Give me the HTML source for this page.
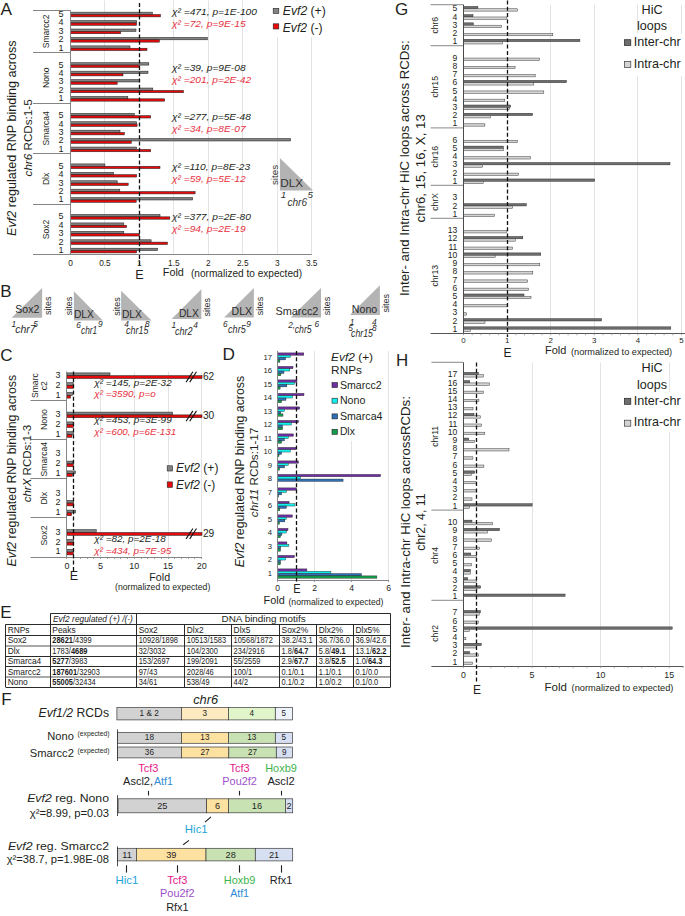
<!DOCTYPE html>
<html><head><meta charset="utf-8"><style>
html,body{margin:0;padding:0;background:#fff;}
svg{display:block;}
text{font-family:'Liberation Sans',sans-serif;}
</style></head><body>
<svg width="685" height="916" viewBox="0 0 685 916">
<rect width="685" height="916" fill="#fff"/>
<line x1="104.50" y1="0.50" x2="104.50" y2="254.77" stroke="#dcdcdc" stroke-width="0.8"/>
<line x1="173.50" y1="0.50" x2="173.50" y2="254.77" stroke="#dcdcdc" stroke-width="0.8"/>
<line x1="208.50" y1="0.50" x2="208.50" y2="254.77" stroke="#dcdcdc" stroke-width="0.8"/>
<line x1="242.50" y1="0.50" x2="242.50" y2="254.77" stroke="#dcdcdc" stroke-width="0.8"/>
<line x1="277.50" y1="37.00" x2="277.50" y2="254.77" stroke="#dcdcdc" stroke-width="0.8"/>
<line x1="311.50" y1="37.00" x2="311.50" y2="254.77" stroke="#dcdcdc" stroke-width="0.8"/>
<rect x="70.50" y="12.17" width="81.80" height="2.35" fill="#828282" stroke="#222222" stroke-width="0.55"/>
<rect x="70.50" y="14.52" width="90.00" height="2.35" fill="#e80a0a" stroke="#222222" stroke-width="0.55"/>
<text x="63.60" y="16.91" font-size="9" fill="#231f20" text-anchor="end">5</text>
<rect x="70.50" y="20.59" width="66.10" height="2.35" fill="#828282" stroke="#222222" stroke-width="0.55"/>
<rect x="70.50" y="22.95" width="66.10" height="2.35" fill="#e80a0a" stroke="#222222" stroke-width="0.55"/>
<text x="63.60" y="25.34" font-size="9" fill="#231f20" text-anchor="end">4</text>
<rect x="70.50" y="29.02" width="65.50" height="2.35" fill="#828282" stroke="#222222" stroke-width="0.55"/>
<rect x="70.50" y="31.38" width="50.20" height="2.35" fill="#e80a0a" stroke="#222222" stroke-width="0.55"/>
<text x="63.60" y="33.77" font-size="9" fill="#231f20" text-anchor="end">3</text>
<rect x="70.50" y="37.45" width="136.80" height="2.35" fill="#828282" stroke="#222222" stroke-width="0.55"/>
<rect x="70.50" y="39.80" width="88.80" height="2.35" fill="#e80a0a" stroke="#222222" stroke-width="0.55"/>
<text x="63.60" y="42.20" font-size="9" fill="#231f20" text-anchor="end">2</text>
<rect x="70.50" y="45.88" width="59.50" height="2.35" fill="#828282" stroke="#222222" stroke-width="0.55"/>
<rect x="70.50" y="48.23" width="76.50" height="2.35" fill="#e80a0a" stroke="#222222" stroke-width="0.55"/>
<text x="63.60" y="50.63" font-size="9" fill="#231f20" text-anchor="end">1</text>
<text x="49.30" y="31.38" font-size="8.6" fill="#231f20" text-anchor="middle" transform="rotate(-90 49.30 31.38)">Smarcc2</text>
<rect x="70.50" y="62.74" width="78.30" height="2.35" fill="#828282" stroke="#222222" stroke-width="0.55"/>
<rect x="70.50" y="65.09" width="68.90" height="2.35" fill="#e80a0a" stroke="#222222" stroke-width="0.55"/>
<text x="63.60" y="67.50" font-size="9" fill="#231f20" text-anchor="end">5</text>
<rect x="70.50" y="71.17" width="77.50" height="2.35" fill="#828282" stroke="#222222" stroke-width="0.55"/>
<rect x="70.50" y="73.52" width="52.50" height="2.35" fill="#e80a0a" stroke="#222222" stroke-width="0.55"/>
<text x="63.60" y="75.92" font-size="9" fill="#231f20" text-anchor="end">4</text>
<rect x="70.50" y="79.61" width="68.90" height="2.35" fill="#828282" stroke="#222222" stroke-width="0.55"/>
<rect x="70.50" y="81.95" width="46.70" height="2.35" fill="#e80a0a" stroke="#222222" stroke-width="0.55"/>
<text x="63.60" y="84.36" font-size="9" fill="#231f20" text-anchor="end">3</text>
<rect x="70.50" y="88.03" width="82.30" height="2.35" fill="#828282" stroke="#222222" stroke-width="0.55"/>
<rect x="70.50" y="90.38" width="112.90" height="2.35" fill="#e80a0a" stroke="#222222" stroke-width="0.55"/>
<text x="63.60" y="92.78" font-size="9" fill="#231f20" text-anchor="end">2</text>
<rect x="70.50" y="96.47" width="57.30" height="2.35" fill="#828282" stroke="#222222" stroke-width="0.55"/>
<rect x="70.50" y="98.81" width="94.20" height="2.35" fill="#e80a0a" stroke="#222222" stroke-width="0.55"/>
<text x="63.60" y="101.22" font-size="9" fill="#231f20" text-anchor="end">1</text>
<text x="49.30" y="77.74" font-size="8.6" fill="#231f20" text-anchor="middle" transform="rotate(-90 49.30 77.74)">Nono</text>
<rect x="70.50" y="113.33" width="63.80" height="2.35" fill="#828282" stroke="#222222" stroke-width="0.55"/>
<rect x="70.50" y="115.67" width="80.20" height="2.35" fill="#e80a0a" stroke="#222222" stroke-width="0.55"/>
<text x="63.60" y="118.08" font-size="9" fill="#231f20" text-anchor="end">5</text>
<rect x="70.50" y="121.75" width="66.10" height="2.35" fill="#828282" stroke="#222222" stroke-width="0.55"/>
<rect x="70.50" y="124.10" width="66.60" height="2.35" fill="#e80a0a" stroke="#222222" stroke-width="0.55"/>
<text x="63.60" y="126.50" font-size="9" fill="#231f20" text-anchor="end">4</text>
<rect x="70.50" y="130.19" width="49.50" height="2.35" fill="#828282" stroke="#222222" stroke-width="0.55"/>
<rect x="70.50" y="132.53" width="53.80" height="2.35" fill="#e80a0a" stroke="#222222" stroke-width="0.55"/>
<text x="63.60" y="134.94" font-size="9" fill="#231f20" text-anchor="end">3</text>
<rect x="70.50" y="138.62" width="220.00" height="2.35" fill="#828282" stroke="#222222" stroke-width="0.55"/>
<rect x="70.50" y="140.97" width="60.80" height="2.35" fill="#e80a0a" stroke="#222222" stroke-width="0.55"/>
<text x="63.60" y="143.37" font-size="9" fill="#231f20" text-anchor="end">2</text>
<rect x="70.50" y="147.05" width="66.10" height="2.35" fill="#828282" stroke="#222222" stroke-width="0.55"/>
<rect x="70.50" y="149.40" width="80.20" height="2.35" fill="#e80a0a" stroke="#222222" stroke-width="0.55"/>
<text x="63.60" y="151.80" font-size="9" fill="#231f20" text-anchor="end">1</text>
<text x="49.30" y="128.32" font-size="8.6" fill="#231f20" text-anchor="middle" transform="rotate(-90 49.30 128.32)">Smarca4</text>
<rect x="70.50" y="163.91" width="34.40" height="2.35" fill="#828282" stroke="#222222" stroke-width="0.55"/>
<rect x="70.50" y="166.25" width="89.50" height="2.35" fill="#e80a0a" stroke="#222222" stroke-width="0.55"/>
<text x="63.60" y="168.66" font-size="9" fill="#231f20" text-anchor="end">5</text>
<rect x="70.50" y="172.34" width="43.20" height="2.35" fill="#828282" stroke="#222222" stroke-width="0.55"/>
<rect x="70.50" y="174.69" width="66.10" height="2.35" fill="#e80a0a" stroke="#222222" stroke-width="0.55"/>
<text x="63.60" y="177.09" font-size="9" fill="#231f20" text-anchor="end">4</text>
<rect x="70.50" y="180.77" width="46.70" height="2.35" fill="#828282" stroke="#222222" stroke-width="0.55"/>
<rect x="70.50" y="183.12" width="57.70" height="2.35" fill="#e80a0a" stroke="#222222" stroke-width="0.55"/>
<text x="63.60" y="185.52" font-size="9" fill="#231f20" text-anchor="end">3</text>
<rect x="70.50" y="189.20" width="49.30" height="2.35" fill="#828282" stroke="#222222" stroke-width="0.55"/>
<rect x="70.50" y="191.55" width="124.60" height="2.35" fill="#e80a0a" stroke="#222222" stroke-width="0.55"/>
<text x="63.60" y="193.95" font-size="9" fill="#231f20" text-anchor="end">2</text>
<rect x="70.50" y="197.62" width="122.20" height="2.35" fill="#828282" stroke="#222222" stroke-width="0.55"/>
<rect x="70.50" y="199.97" width="65.70" height="2.35" fill="#e80a0a" stroke="#222222" stroke-width="0.55"/>
<text x="63.60" y="202.38" font-size="9" fill="#231f20" text-anchor="end">1</text>
<text x="49.30" y="178.90" font-size="8.6" fill="#231f20" text-anchor="middle" transform="rotate(-90 49.30 178.90)">Dlx</text>
<rect x="70.50" y="214.49" width="89.50" height="2.35" fill="#828282" stroke="#222222" stroke-width="0.55"/>
<rect x="70.50" y="216.84" width="99.30" height="2.35" fill="#e80a0a" stroke="#222222" stroke-width="0.55"/>
<text x="63.60" y="219.24" font-size="9" fill="#231f20" text-anchor="end">5</text>
<rect x="70.50" y="222.92" width="53.30" height="2.35" fill="#828282" stroke="#222222" stroke-width="0.55"/>
<rect x="70.50" y="225.27" width="56.10" height="2.35" fill="#e80a0a" stroke="#222222" stroke-width="0.55"/>
<text x="63.60" y="227.67" font-size="9" fill="#231f20" text-anchor="end">4</text>
<rect x="70.50" y="231.34" width="53.30" height="2.35" fill="#828282" stroke="#222222" stroke-width="0.55"/>
<rect x="70.50" y="233.69" width="68.90" height="2.35" fill="#e80a0a" stroke="#222222" stroke-width="0.55"/>
<text x="63.60" y="236.09" font-size="9" fill="#231f20" text-anchor="end">3</text>
<rect x="70.50" y="239.78" width="80.60" height="2.35" fill="#828282" stroke="#222222" stroke-width="0.55"/>
<rect x="70.50" y="242.12" width="97.00" height="2.35" fill="#e80a0a" stroke="#222222" stroke-width="0.55"/>
<text x="63.60" y="244.53" font-size="9" fill="#231f20" text-anchor="end">2</text>
<rect x="70.50" y="248.21" width="87.20" height="2.35" fill="#828282" stroke="#222222" stroke-width="0.55"/>
<rect x="70.50" y="250.56" width="66.10" height="2.35" fill="#e80a0a" stroke="#222222" stroke-width="0.55"/>
<text x="63.60" y="252.96" font-size="9" fill="#231f20" text-anchor="end">1</text>
<text x="49.30" y="229.48" font-size="8.6" fill="#231f20" text-anchor="middle" transform="rotate(-90 49.30 229.48)">Sox2</text>
<line x1="33.00" y1="10.50" x2="70.50" y2="10.50" stroke="#858585" stroke-width="1"/>
<line x1="33.00" y1="52.50" x2="70.50" y2="52.50" stroke="#858585" stroke-width="1"/>
<line x1="33.00" y1="103.50" x2="70.50" y2="103.50" stroke="#858585" stroke-width="1"/>
<line x1="33.00" y1="153.50" x2="70.50" y2="153.50" stroke="#858585" stroke-width="1"/>
<line x1="33.00" y1="204.50" x2="70.50" y2="204.50" stroke="#858585" stroke-width="1"/>
<line x1="33.00" y1="254.50" x2="311.80" y2="254.50" stroke="#858585" stroke-width="1"/>
<line x1="70.50" y1="10.30" x2="70.50" y2="254.77" stroke="#858585" stroke-width="1"/>
<line x1="139.50" y1="2.90" x2="139.50" y2="267.50" stroke="#111" stroke-width="1.3" stroke-dasharray="4,2.3"/>
<text x="70.50" y="265.60" font-size="8.3" fill="#231f20" text-anchor="middle">0</text>
<text x="104.95" y="265.60" font-size="8.3" fill="#231f20" text-anchor="middle">0.5</text>
<text x="139.40" y="265.60" font-size="8.3" fill="#231f20" text-anchor="middle">1</text>
<text x="173.85" y="265.60" font-size="8.3" fill="#231f20" text-anchor="middle">1.5</text>
<text x="208.30" y="265.60" font-size="8.3" fill="#231f20" text-anchor="middle">2</text>
<text x="242.75" y="265.60" font-size="8.3" fill="#231f20" text-anchor="middle">2.5</text>
<text x="277.20" y="265.60" font-size="8.3" fill="#231f20" text-anchor="middle">3</text>
<text x="311.65" y="265.60" font-size="8.3" fill="#231f20" text-anchor="middle">3.5</text>
<text x="139.40" y="279.00" font-size="12.6" fill="#231f20" text-anchor="middle">E</text>
<text x="162.80" y="276.00" font-size="11.3" fill="#231f20" textLength="21.10" lengthAdjust="spacingAndGlyphs">Fold</text>
<text x="191.00" y="276.60" font-size="10.1" fill="#231f20" textLength="111.00" lengthAdjust="spacingAndGlyphs">(normalized to expected)</text>
<text x="0.60" y="14.60" font-size="17.2" fill="#231f20">A</text>
<text x="16.00" y="138.20" font-size="12.4" fill="#231f20" text-anchor="middle" textLength="195.40" lengthAdjust="spacingAndGlyphs" transform="rotate(-90 16.00 138.20)" xml:space="preserve"><tspan font-style="italic">Evf2</tspan><tspan> regulated RNP binding across</tspan></text>
<text x="32.30" y="137.90" font-size="11.7" fill="#231f20" text-anchor="middle" textLength="77.10" lengthAdjust="spacingAndGlyphs" transform="rotate(-90 32.30 137.90)" xml:space="preserve"><tspan font-style="italic">chr6</tspan><tspan> RCDs:1-5</tspan></text>
<text x="171.90" y="14.90" font-size="9.6" fill="#231f20" textLength="85.10" lengthAdjust="spacingAndGlyphs" style="font-style:italic">χ² =471, p=1E-100</text>
<text x="171.90" y="26.60" font-size="9.6" fill="#e6323e" textLength="73.70" lengthAdjust="spacingAndGlyphs" style="font-style:italic">χ² =72, p=9E-15</text>
<text x="171.90" y="70.80" font-size="9.6" fill="#231f20" textLength="73.70" lengthAdjust="spacingAndGlyphs" style="font-style:italic">χ² =39, p=9E-08</text>
<text x="171.90" y="82.70" font-size="9.6" fill="#e6323e" textLength="79.20" lengthAdjust="spacingAndGlyphs" style="font-style:italic">χ² =201, p=2E-42</text>
<text x="171.90" y="120.00" font-size="9.6" fill="#231f20" textLength="78.90" lengthAdjust="spacingAndGlyphs" style="font-style:italic">χ² =277, p=5E-48</text>
<text x="171.90" y="132.10" font-size="9.6" fill="#e6323e" textLength="73.70" lengthAdjust="spacingAndGlyphs" style="font-style:italic">χ² =34, p=8E-07</text>
<text x="171.90" y="169.60" font-size="9.6" fill="#231f20" textLength="78.20" lengthAdjust="spacingAndGlyphs" style="font-style:italic">χ² =110, p=8E-23</text>
<text x="171.90" y="182.00" font-size="9.6" fill="#e6323e" textLength="73.70" lengthAdjust="spacingAndGlyphs" style="font-style:italic">χ² =59, p=5E-12</text>
<text x="171.90" y="220.30" font-size="9.6" fill="#231f20" textLength="78.90" lengthAdjust="spacingAndGlyphs" style="font-style:italic">χ² =377, p=2E-80</text>
<text x="171.90" y="232.40" font-size="9.6" fill="#e6323e" textLength="73.70" lengthAdjust="spacingAndGlyphs" style="font-style:italic">χ² =94, p=2E-19</text>
<rect x="273.20" y="8.40" width="5.60" height="5.00" fill="#828282" stroke="#222222" stroke-width="0.6"/>
<rect x="273.20" y="23.80" width="5.60" height="5.20" fill="#e80a0a" stroke="#222222" stroke-width="0.6"/>
<text x="282.80" y="14.60" font-size="12.2" fill="#231f20" textLength="43.00" lengthAdjust="spacingAndGlyphs" xml:space="preserve"><tspan font-style="italic">Evf2</tspan><tspan> (+)</tspan></text>
<text x="282.80" y="31.50" font-size="12.2" fill="#231f20" textLength="39.70" lengthAdjust="spacingAndGlyphs" xml:space="preserve"><tspan font-style="italic">Evf2</tspan><tspan> (-)</tspan></text>
<polygon points="279.90,157.90 279.90,190.60 313.00,190.60" fill="#b3b3b3"/>
<text x="280.30" y="187.20" font-size="11.8" fill="#333" textLength="22.90" lengthAdjust="spacingAndGlyphs">DLX</text>
<text x="278.10" y="175.00" font-size="9.8" fill="#333" text-anchor="middle" textLength="20.10" lengthAdjust="spacingAndGlyphs" transform="rotate(-90 278.10 175.00)">sites</text>
<text x="283.60" y="198.40" font-size="9.8" fill="#333" text-anchor="middle" style="font-style:italic">1</text>
<text x="310.20" y="198.00" font-size="9.8" fill="#333" text-anchor="middle" style="font-style:italic">5</text>
<text x="287.40" y="206.20" font-size="10.2" fill="#333" textLength="19.60" lengthAdjust="spacingAndGlyphs" style="font-style:italic">chr6</text>
<text x="0.20" y="297.40" font-size="17" fill="#231f20">B</text>
<polygon points="42.10,288.10 42.10,317.70 11.60,317.70" fill="#b4b4b4"/>
<text x="15.30" y="312.50" font-size="11" fill="#2b2b2b" textLength="24.00" lengthAdjust="spacingAndGlyphs">Sox2</text>
<text x="51.00" y="305.70" font-size="9" fill="#2b2b2b" text-anchor="middle" transform="rotate(-90 51.00 305.70)">sites</text>
<text x="11.60" y="327.00" font-size="8.3" fill="#2b2b2b" style="font-style:italic">1</text>
<text x="33.20" y="326.60" font-size="8.3" fill="#2b2b2b" style="font-style:italic">5</text>
<text x="15.30" y="333.40" font-size="10.5" fill="#2b2b2b" textLength="20.40" lengthAdjust="spacingAndGlyphs" style="font-style:italic">chr7</text>
<polygon points="73.90,291.30 73.90,320.50 102.80,320.50" fill="#b4b4b4"/>
<text x="72.30" y="306.10" font-size="9" fill="#2b2b2b" text-anchor="middle" transform="rotate(-90 72.30 306.10)">sites</text>
<text x="73.90" y="318.10" font-size="10.5" fill="#2b2b2b" textLength="20.00" lengthAdjust="spacingAndGlyphs">DLX</text>
<text x="76.30" y="327.80" font-size="8.3" fill="#2b2b2b" style="font-style:italic">6</text>
<text x="98.00" y="327.00" font-size="8.3" fill="#2b2b2b" style="font-style:italic">9</text>
<text x="81.10" y="333.70" font-size="10.5" fill="#2b2b2b" textLength="16.10" lengthAdjust="spacingAndGlyphs" style="font-style:italic">chr1</text>
<polygon points="121.10,290.80 121.10,320.50 151.60,320.50" fill="#b4b4b4"/>
<text x="120.30" y="306.50" font-size="9" fill="#2b2b2b" text-anchor="middle" transform="rotate(-90 120.30 306.50)">sites</text>
<text x="121.90" y="317.70" font-size="10.5" fill="#2b2b2b" textLength="20.00" lengthAdjust="spacingAndGlyphs">DLX</text>
<text x="124.30" y="327.30" font-size="8.3" fill="#2b2b2b" style="font-style:italic">4</text>
<text x="145.10" y="327.30" font-size="8.3" fill="#2b2b2b" style="font-style:italic">8</text>
<text x="125.90" y="333.70" font-size="10.0" fill="#2b2b2b" textLength="22.50" lengthAdjust="spacingAndGlyphs" style="font-style:italic">chr15</text>
<polygon points="201.40,289.20 201.40,318.90 171.60,318.90" fill="#b4b4b4"/>
<text x="178.90" y="316.50" font-size="10.5" fill="#2b2b2b" textLength="20.00" lengthAdjust="spacingAndGlyphs">DLX</text>
<text x="210.20" y="307.30" font-size="9" fill="#2b2b2b" text-anchor="middle" transform="rotate(-90 210.20 307.30)">sites</text>
<text x="171.60" y="328.30" font-size="8.3" fill="#2b2b2b" style="font-style:italic">1</text>
<text x="193.30" y="327.80" font-size="8.3" fill="#2b2b2b" style="font-style:italic">4</text>
<text x="174.90" y="334.70" font-size="10.5" fill="#2b2b2b" textLength="17.60" lengthAdjust="spacingAndGlyphs" style="font-style:italic">chr2</text>
<polygon points="253.90,288.10 253.90,317.60 224.10,317.60" fill="#b4b4b4"/>
<text x="231.60" y="315.30" font-size="10.5" fill="#2b2b2b" textLength="20.50" lengthAdjust="spacingAndGlyphs">DLX</text>
<text x="263.20" y="306.10" font-size="9" fill="#2b2b2b" text-anchor="middle" transform="rotate(-90 263.20 306.10)">sites</text>
<text x="222.90" y="326.70" font-size="8.3" fill="#2b2b2b" style="font-style:italic">6</text>
<text x="246.20" y="326.70" font-size="8.3" fill="#2b2b2b" style="font-style:italic">9</text>
<text x="228.10" y="333.20" font-size="10.5" fill="#2b2b2b" textLength="17.60" lengthAdjust="spacingAndGlyphs" style="font-style:italic">chr5</text>
<polygon points="321.00,288.10 321.00,317.60 290.70,317.60" fill="#b4b4b4"/>
<text x="275.40" y="315.30" font-size="10.9" fill="#2b2b2b" textLength="43.00" lengthAdjust="spacingAndGlyphs">Smarcc2</text>
<text x="330.30" y="306.10" font-size="9" fill="#2b2b2b" text-anchor="middle" transform="rotate(-90 330.30 306.10)">sites</text>
<text x="288.20" y="327.90" font-size="8.3" fill="#2b2b2b" style="font-style:italic">2,</text>
<text x="314.50" y="326.70" font-size="8.3" fill="#2b2b2b" style="font-style:italic">6</text>
<text x="294.70" y="333.20" font-size="10.5" fill="#2b2b2b" textLength="17.00" lengthAdjust="spacingAndGlyphs" style="font-style:italic">chr5</text>
<polygon points="379.90,285.30 379.90,315.00 350.00,315.00" fill="#b4b4b4"/>
<text x="351.80" y="313.30" font-size="10.6" fill="#2b2b2b" textLength="25.40" lengthAdjust="spacingAndGlyphs">Nono</text>
<text x="388.60" y="303.20" font-size="9" fill="#2b2b2b" text-anchor="middle" transform="rotate(-90 388.60 303.20)">sites</text>
<text x="349.80" y="324.70" font-size="8.3" fill="#2b2b2b" style="font-style:italic">1</text>
<text x="348.30" y="330.80" font-size="8.3" fill="#2b2b2b" style="font-style:italic">5</text>
<text x="372.00" y="324.70" font-size="8.3" fill="#2b2b2b" style="font-style:italic">4</text>
<text x="372.00" y="330.80" font-size="8.3" fill="#2b2b2b" style="font-style:italic">8</text>
<text x="351.00" y="337.00" font-size="10.0" fill="#2b2b2b" textLength="21.90" lengthAdjust="spacingAndGlyphs" style="font-style:italic">chr15</text>
<line x1="100.50" y1="371.60" x2="100.50" y2="557.00" stroke="#dcdcdc" stroke-width="0.8"/>
<line x1="134.50" y1="371.60" x2="134.50" y2="557.00" stroke="#dcdcdc" stroke-width="0.8"/>
<line x1="168.50" y1="371.60" x2="168.50" y2="557.00" stroke="#dcdcdc" stroke-width="0.8"/>
<line x1="201.50" y1="371.60" x2="201.50" y2="557.00" stroke="#dcdcdc" stroke-width="0.8"/>
<rect x="66.90" y="372.90" width="43.10" height="2.80" fill="#828282" stroke="#222222" stroke-width="0.55"/>
<rect x="66.90" y="375.70" width="135.10" height="2.80" fill="#e80a0a" stroke="#222222" stroke-width="0.55"/>
<line x1="186.10" y1="382.10" x2="192.90" y2="371.70" stroke="#111" stroke-width="1.1"/>
<line x1="189.70" y1="382.10" x2="196.50" y2="371.70" stroke="#111" stroke-width="1.1"/>
<text x="202.90" y="379.90" font-size="10.5" fill="#231f20" textLength="11.30" lengthAdjust="spacingAndGlyphs">62</text>
<text x="60.40" y="378.00" font-size="9" fill="#231f20" text-anchor="end">3</text>
<rect x="66.90" y="382.70" width="6.30" height="2.80" fill="#828282" stroke="#222222" stroke-width="0.55"/>
<rect x="66.90" y="385.50" width="6.30" height="2.80" fill="#e80a0a" stroke="#222222" stroke-width="0.55"/>
<text x="60.40" y="387.80" font-size="9" fill="#231f20" text-anchor="end">2</text>
<rect x="66.90" y="392.50" width="5.50" height="2.80" fill="#828282" stroke="#222222" stroke-width="0.55"/>
<rect x="66.90" y="395.30" width="3.60" height="2.80" fill="#e80a0a" stroke="#222222" stroke-width="0.55"/>
<text x="60.40" y="397.60" font-size="9" fill="#231f20" text-anchor="end">1</text>
<rect x="66.90" y="412.10" width="105.70" height="2.80" fill="#828282" stroke="#222222" stroke-width="0.55"/>
<rect x="66.90" y="414.90" width="135.10" height="2.80" fill="#e80a0a" stroke="#222222" stroke-width="0.55"/>
<line x1="186.10" y1="421.30" x2="192.90" y2="410.90" stroke="#111" stroke-width="1.1"/>
<line x1="189.70" y1="421.30" x2="196.50" y2="410.90" stroke="#111" stroke-width="1.1"/>
<text x="202.90" y="419.10" font-size="10.5" fill="#231f20" textLength="11.30" lengthAdjust="spacingAndGlyphs">30</text>
<text x="60.40" y="417.20" font-size="9" fill="#231f20" text-anchor="end">3</text>
<rect x="66.90" y="421.90" width="6.60" height="2.80" fill="#828282" stroke="#222222" stroke-width="0.55"/>
<rect x="66.90" y="424.70" width="6.60" height="2.80" fill="#e80a0a" stroke="#222222" stroke-width="0.55"/>
<text x="60.40" y="427.00" font-size="9" fill="#231f20" text-anchor="end">2</text>
<rect x="66.90" y="431.70" width="6.60" height="2.80" fill="#828282" stroke="#222222" stroke-width="0.55"/>
<rect x="66.90" y="434.50" width="5.10" height="2.80" fill="#e80a0a" stroke="#222222" stroke-width="0.55"/>
<text x="60.40" y="436.80" font-size="9" fill="#231f20" text-anchor="end">1</text>
<text x="60.40" y="456.40" font-size="9" fill="#231f20" text-anchor="end">3</text>
<rect x="66.90" y="461.10" width="6.00" height="2.80" fill="#828282" stroke="#222222" stroke-width="0.55"/>
<rect x="66.90" y="463.90" width="6.40" height="2.80" fill="#e80a0a" stroke="#222222" stroke-width="0.55"/>
<text x="60.40" y="466.20" font-size="9" fill="#231f20" text-anchor="end">2</text>
<rect x="66.90" y="470.90" width="8.60" height="2.80" fill="#828282" stroke="#222222" stroke-width="0.55"/>
<rect x="66.90" y="473.70" width="5.60" height="2.80" fill="#e80a0a" stroke="#222222" stroke-width="0.55"/>
<text x="60.40" y="476.00" font-size="9" fill="#231f20" text-anchor="end">1</text>
<text x="60.40" y="495.60" font-size="9" fill="#231f20" text-anchor="end">3</text>
<rect x="66.90" y="500.30" width="6.70" height="2.80" fill="#828282" stroke="#222222" stroke-width="0.55"/>
<rect x="66.90" y="503.10" width="6.90" height="2.80" fill="#e80a0a" stroke="#222222" stroke-width="0.55"/>
<text x="60.40" y="505.40" font-size="9" fill="#231f20" text-anchor="end">2</text>
<rect x="66.90" y="510.10" width="8.60" height="2.80" fill="#828282" stroke="#222222" stroke-width="0.55"/>
<rect x="66.90" y="512.90" width="4.70" height="2.80" fill="#e80a0a" stroke="#222222" stroke-width="0.55"/>
<text x="60.40" y="515.20" font-size="9" fill="#231f20" text-anchor="end">1</text>
<rect x="66.90" y="529.70" width="29.30" height="2.80" fill="#828282" stroke="#222222" stroke-width="0.55"/>
<rect x="66.90" y="532.50" width="135.10" height="2.80" fill="#e80a0a" stroke="#222222" stroke-width="0.55"/>
<line x1="186.10" y1="538.90" x2="192.90" y2="528.50" stroke="#111" stroke-width="1.1"/>
<line x1="189.70" y1="538.90" x2="196.50" y2="528.50" stroke="#111" stroke-width="1.1"/>
<text x="202.90" y="536.70" font-size="10.5" fill="#231f20" textLength="11.30" lengthAdjust="spacingAndGlyphs">29</text>
<text x="60.40" y="534.80" font-size="9" fill="#231f20" text-anchor="end">3</text>
<rect x="66.90" y="539.50" width="6.40" height="2.80" fill="#828282" stroke="#222222" stroke-width="0.55"/>
<rect x="66.90" y="542.30" width="6.40" height="2.80" fill="#e80a0a" stroke="#222222" stroke-width="0.55"/>
<text x="60.40" y="544.60" font-size="9" fill="#231f20" text-anchor="end">2</text>
<rect x="66.90" y="549.30" width="6.40" height="2.80" fill="#828282" stroke="#222222" stroke-width="0.55"/>
<rect x="66.90" y="552.10" width="6.40" height="2.80" fill="#e80a0a" stroke="#222222" stroke-width="0.55"/>
<text x="60.40" y="554.40" font-size="9" fill="#231f20" text-anchor="end">1</text>
<line x1="30.50" y1="400.50" x2="66.90" y2="400.50" stroke="#858585" stroke-width="1"/>
<line x1="30.50" y1="439.50" x2="66.90" y2="439.50" stroke="#858585" stroke-width="1"/>
<line x1="30.50" y1="478.50" x2="66.90" y2="478.50" stroke="#858585" stroke-width="1"/>
<line x1="30.50" y1="517.50" x2="66.90" y2="517.50" stroke="#858585" stroke-width="1"/>
<line x1="30.50" y1="557.50" x2="201.90" y2="557.50" stroke="#858585" stroke-width="1"/>
<line x1="66.50" y1="371.60" x2="66.50" y2="557.00" stroke="#858585" stroke-width="1"/>
<line x1="66.50" y1="557.00" x2="66.50" y2="559.00" stroke="#858585" stroke-width="0.8"/>
<line x1="73.50" y1="557.00" x2="73.50" y2="559.00" stroke="#858585" stroke-width="0.8"/>
<line x1="80.50" y1="557.00" x2="80.50" y2="559.00" stroke="#858585" stroke-width="0.8"/>
<line x1="87.50" y1="557.00" x2="87.50" y2="559.00" stroke="#858585" stroke-width="0.8"/>
<line x1="93.50" y1="557.00" x2="93.50" y2="559.00" stroke="#858585" stroke-width="0.8"/>
<line x1="100.50" y1="557.00" x2="100.50" y2="559.00" stroke="#858585" stroke-width="0.8"/>
<line x1="107.50" y1="557.00" x2="107.50" y2="559.00" stroke="#858585" stroke-width="0.8"/>
<line x1="114.50" y1="557.00" x2="114.50" y2="559.00" stroke="#858585" stroke-width="0.8"/>
<line x1="120.50" y1="557.00" x2="120.50" y2="559.00" stroke="#858585" stroke-width="0.8"/>
<line x1="127.50" y1="557.00" x2="127.50" y2="559.00" stroke="#858585" stroke-width="0.8"/>
<line x1="134.50" y1="557.00" x2="134.50" y2="559.00" stroke="#858585" stroke-width="0.8"/>
<line x1="141.50" y1="557.00" x2="141.50" y2="559.00" stroke="#858585" stroke-width="0.8"/>
<line x1="147.50" y1="557.00" x2="147.50" y2="559.00" stroke="#858585" stroke-width="0.8"/>
<line x1="154.50" y1="557.00" x2="154.50" y2="559.00" stroke="#858585" stroke-width="0.8"/>
<line x1="161.50" y1="557.00" x2="161.50" y2="559.00" stroke="#858585" stroke-width="0.8"/>
<line x1="168.50" y1="557.00" x2="168.50" y2="559.00" stroke="#858585" stroke-width="0.8"/>
<line x1="174.50" y1="557.00" x2="174.50" y2="559.00" stroke="#858585" stroke-width="0.8"/>
<line x1="181.50" y1="557.00" x2="181.50" y2="559.00" stroke="#858585" stroke-width="0.8"/>
<line x1="188.50" y1="557.00" x2="188.50" y2="559.00" stroke="#858585" stroke-width="0.8"/>
<line x1="194.50" y1="557.00" x2="194.50" y2="559.00" stroke="#858585" stroke-width="0.8"/>
<line x1="201.50" y1="557.00" x2="201.50" y2="559.00" stroke="#858585" stroke-width="0.8"/>
<line x1="73.50" y1="371.60" x2="73.50" y2="571.00" stroke="#111" stroke-width="1.3" stroke-dasharray="4,2.3"/>
<text x="37.60" y="385.60" font-size="8.6" fill="#231f20" text-anchor="middle" transform="rotate(-90 37.60 385.60)">Smarc</text>
<text x="47.00" y="385.70" font-size="8.6" fill="#231f20" text-anchor="middle" transform="rotate(-90 47.00 385.70)">c2</text>
<text x="47.00" y="419.60" font-size="8.8" fill="#231f20" text-anchor="middle" transform="rotate(-90 47.00 419.60)">Nono</text>
<text x="47.00" y="459.20" font-size="8.6" fill="#231f20" text-anchor="middle" transform="rotate(-90 47.00 459.20)">Smarca4</text>
<text x="47.00" y="498.20" font-size="8.8" fill="#231f20" text-anchor="middle" transform="rotate(-90 47.00 498.20)">Dlx</text>
<text x="47.00" y="535.50" font-size="8.8" fill="#231f20" text-anchor="middle" transform="rotate(-90 47.00 535.50)">Sox2</text>
<text x="66.90" y="569.20" font-size="9" fill="#231f20" text-anchor="middle">0</text>
<text x="100.60" y="569.20" font-size="9" fill="#231f20" text-anchor="middle">5</text>
<text x="134.30" y="569.20" font-size="9" fill="#231f20" text-anchor="middle">10</text>
<text x="168.00" y="569.20" font-size="9" fill="#231f20" text-anchor="middle">15</text>
<text x="201.70" y="569.20" font-size="9" fill="#231f20" text-anchor="middle">20</text>
<text x="73.90" y="580.40" font-size="12.6" fill="#231f20" text-anchor="middle">E</text>
<text x="149.30" y="581.00" font-size="11.3" fill="#231f20" textLength="20.90" lengthAdjust="spacingAndGlyphs">Fold</text>
<text x="115.00" y="589.80" font-size="8.8" fill="#231f20" textLength="95.30" lengthAdjust="spacingAndGlyphs">(normalized to expected)</text>
<text x="0.30" y="361.20" font-size="17" fill="#231f20">C</text>
<text x="15.70" y="470.70" font-size="12.4" fill="#231f20" text-anchor="middle" textLength="191.60" lengthAdjust="spacingAndGlyphs" transform="rotate(-90 15.70 470.70)" xml:space="preserve"><tspan font-style="italic">Evf2</tspan><tspan> regulated RNP binding across</tspan></text>
<text x="31.00" y="463.60" font-size="11.5" fill="#231f20" text-anchor="middle" textLength="77.50" lengthAdjust="spacingAndGlyphs" transform="rotate(-90 31.00 463.60)" xml:space="preserve"><tspan font-style="italic">chrX</tspan><tspan> RCDs:1-3</tspan></text>
<text x="94.30" y="385.70" font-size="9.6" fill="#231f20" textLength="77.40" lengthAdjust="spacingAndGlyphs" style="font-style:italic">χ² =145, p=2E-32</text>
<text x="94.30" y="397.30" font-size="9.6" fill="#e6323e" textLength="61.40" lengthAdjust="spacingAndGlyphs" style="font-style:italic">χ² =3590, p=o</text>
<text x="94.30" y="423.30" font-size="9.6" fill="#231f20" textLength="77.40" lengthAdjust="spacingAndGlyphs" style="font-style:italic">χ² =453, p=3E-99</text>
<text x="94.30" y="435.00" font-size="9.6" fill="#e6323e" textLength="81.90" lengthAdjust="spacingAndGlyphs" style="font-style:italic">χ² =600, p=6E-131</text>
<text x="94.30" y="541.70" font-size="9.6" fill="#231f20" textLength="71.50" lengthAdjust="spacingAndGlyphs" style="font-style:italic">χ² =82, p=2E-18</text>
<text x="94.30" y="553.50" font-size="9.6" fill="#e6323e" textLength="77.00" lengthAdjust="spacingAndGlyphs" style="font-style:italic">χ² =434, p=7E-95</text>
<rect x="167.20" y="465.80" width="5.20" height="5.20" fill="#828282" stroke="#222222" stroke-width="0.6"/>
<rect x="167.20" y="481.90" width="5.20" height="5.40" fill="#e80a0a" stroke="#222222" stroke-width="0.6"/>
<text x="176.00" y="472.30" font-size="12.2" fill="#231f20" textLength="42.40" lengthAdjust="spacingAndGlyphs" xml:space="preserve"><tspan font-style="italic">Evf2</tspan><tspan> (+)</tspan></text>
<text x="176.00" y="488.50" font-size="12.2" fill="#231f20" textLength="39.20" lengthAdjust="spacingAndGlyphs" xml:space="preserve"><tspan font-style="italic">Evf2</tspan><tspan> (-)</tspan></text>
<line x1="314.50" y1="350.90" x2="314.50" y2="580.10" stroke="#dcdcdc" stroke-width="0.8"/>
<line x1="351.50" y1="441.00" x2="351.50" y2="580.10" stroke="#dcdcdc" stroke-width="0.8"/>
<line x1="388.50" y1="350.90" x2="388.50" y2="580.10" stroke="#dcdcdc" stroke-width="0.8"/>
<rect x="277.60" y="352.89" width="26.20" height="2.33" fill="#6e2fa0" stroke="#222" stroke-width="0.4"/>
<rect x="277.60" y="355.22" width="13.00" height="2.33" fill="#12eeee" stroke="#222" stroke-width="0.4"/>
<rect x="277.60" y="357.55" width="8.00" height="2.33" fill="#2e6fb5" stroke="#222" stroke-width="0.4"/>
<rect x="277.60" y="359.88" width="2.30" height="2.33" fill="#139a4a" stroke="#222" stroke-width="0.4"/>
<text x="272.00" y="359.65" font-size="7.7" fill="#231f20" text-anchor="end">17</text>
<rect x="277.60" y="366.39" width="15.40" height="2.33" fill="#6e2fa0" stroke="#222" stroke-width="0.4"/>
<rect x="277.60" y="368.72" width="12.20" height="2.33" fill="#12eeee" stroke="#222" stroke-width="0.4"/>
<rect x="277.60" y="371.05" width="6.40" height="2.33" fill="#2e6fb5" stroke="#222" stroke-width="0.4"/>
<rect x="277.60" y="373.38" width="3.30" height="2.33" fill="#139a4a" stroke="#222" stroke-width="0.4"/>
<text x="272.00" y="373.15" font-size="7.7" fill="#231f20" text-anchor="end">16</text>
<rect x="277.60" y="379.89" width="19.40" height="2.33" fill="#6e2fa0" stroke="#222" stroke-width="0.4"/>
<rect x="277.60" y="382.22" width="16.90" height="2.33" fill="#12eeee" stroke="#222" stroke-width="0.4"/>
<rect x="277.60" y="384.55" width="9.20" height="2.33" fill="#2e6fb5" stroke="#222" stroke-width="0.4"/>
<rect x="277.60" y="386.88" width="2.50" height="2.33" fill="#139a4a" stroke="#222" stroke-width="0.4"/>
<text x="272.00" y="386.65" font-size="7.7" fill="#231f20" text-anchor="end">15</text>
<rect x="277.60" y="393.39" width="26.40" height="2.33" fill="#6e2fa0" stroke="#222" stroke-width="0.4"/>
<rect x="277.60" y="395.72" width="15.00" height="2.33" fill="#12eeee" stroke="#222" stroke-width="0.4"/>
<rect x="277.60" y="398.05" width="8.40" height="2.33" fill="#2e6fb5" stroke="#222" stroke-width="0.4"/>
<rect x="277.60" y="400.38" width="4.00" height="2.33" fill="#139a4a" stroke="#222" stroke-width="0.4"/>
<text x="272.00" y="400.15" font-size="7.7" fill="#231f20" text-anchor="end">14</text>
<rect x="277.60" y="406.89" width="22.10" height="2.33" fill="#6e2fa0" stroke="#222" stroke-width="0.4"/>
<rect x="277.60" y="409.22" width="7.00" height="2.33" fill="#12eeee" stroke="#222" stroke-width="0.4"/>
<rect x="277.60" y="411.55" width="3.10" height="2.33" fill="#2e6fb5" stroke="#222" stroke-width="0.4"/>
<rect x="277.60" y="413.88" width="5.40" height="2.33" fill="#139a4a" stroke="#222" stroke-width="0.4"/>
<text x="272.00" y="413.65" font-size="7.7" fill="#231f20" text-anchor="end">13</text>
<rect x="277.60" y="420.39" width="20.90" height="2.33" fill="#6e2fa0" stroke="#222" stroke-width="0.4"/>
<rect x="277.60" y="422.72" width="13.80" height="2.33" fill="#12eeee" stroke="#222" stroke-width="0.4"/>
<rect x="277.60" y="425.05" width="4.90" height="2.33" fill="#2e6fb5" stroke="#222" stroke-width="0.4"/>
<rect x="277.60" y="427.38" width="5.10" height="2.33" fill="#139a4a" stroke="#222" stroke-width="0.4"/>
<text x="272.00" y="427.15" font-size="7.7" fill="#231f20" text-anchor="end">12</text>
<rect x="277.60" y="433.89" width="15.90" height="2.33" fill="#6e2fa0" stroke="#222" stroke-width="0.4"/>
<rect x="277.60" y="436.22" width="11.00" height="2.33" fill="#12eeee" stroke="#222" stroke-width="0.4"/>
<rect x="277.60" y="438.55" width="6.80" height="2.33" fill="#2e6fb5" stroke="#222" stroke-width="0.4"/>
<rect x="277.60" y="440.88" width="4.00" height="2.33" fill="#139a4a" stroke="#222" stroke-width="0.4"/>
<text x="272.00" y="440.65" font-size="7.7" fill="#231f20" text-anchor="end">11</text>
<rect x="277.60" y="447.39" width="18.30" height="2.33" fill="#6e2fa0" stroke="#222" stroke-width="0.4"/>
<rect x="277.60" y="449.72" width="12.70" height="2.33" fill="#12eeee" stroke="#222" stroke-width="0.4"/>
<rect x="277.60" y="452.05" width="4.00" height="2.33" fill="#2e6fb5" stroke="#222" stroke-width="0.4"/>
<rect x="277.60" y="454.38" width="1.40" height="2.33" fill="#139a4a" stroke="#222" stroke-width="0.4"/>
<text x="272.00" y="454.15" font-size="7.7" fill="#231f20" text-anchor="end">10</text>
<rect x="277.60" y="460.89" width="20.90" height="2.33" fill="#6e2fa0" stroke="#222" stroke-width="0.4"/>
<rect x="277.60" y="463.22" width="10.70" height="2.33" fill="#12eeee" stroke="#222" stroke-width="0.4"/>
<rect x="277.60" y="465.55" width="7.00" height="2.33" fill="#2e6fb5" stroke="#222" stroke-width="0.4"/>
<rect x="277.60" y="467.88" width="1.90" height="2.33" fill="#139a4a" stroke="#222" stroke-width="0.4"/>
<text x="272.00" y="467.65" font-size="7.7" fill="#231f20" text-anchor="end">9</text>
<rect x="277.60" y="474.39" width="103.00" height="2.33" fill="#6e2fa0" stroke="#222" stroke-width="0.4"/>
<rect x="277.60" y="476.72" width="22.80" height="2.33" fill="#12eeee" stroke="#222" stroke-width="0.4"/>
<rect x="277.60" y="479.05" width="65.50" height="2.33" fill="#2e6fb5" stroke="#222" stroke-width="0.4"/>
<text x="272.00" y="481.15" font-size="7.7" fill="#231f20" text-anchor="end">8</text>
<rect x="277.60" y="487.89" width="18.90" height="2.33" fill="#6e2fa0" stroke="#222" stroke-width="0.4"/>
<rect x="277.60" y="490.22" width="8.90" height="2.33" fill="#12eeee" stroke="#222" stroke-width="0.4"/>
<rect x="277.60" y="492.55" width="4.00" height="2.33" fill="#2e6fb5" stroke="#222" stroke-width="0.4"/>
<rect x="277.60" y="494.88" width="1.00" height="2.33" fill="#139a4a" stroke="#222" stroke-width="0.4"/>
<text x="272.00" y="494.65" font-size="7.7" fill="#231f20" text-anchor="end">7</text>
<rect x="277.60" y="501.39" width="11.50" height="2.33" fill="#6e2fa0" stroke="#222" stroke-width="0.4"/>
<rect x="277.60" y="503.72" width="17.40" height="2.33" fill="#12eeee" stroke="#222" stroke-width="0.4"/>
<rect x="277.60" y="506.05" width="8.90" height="2.33" fill="#2e6fb5" stroke="#222" stroke-width="0.4"/>
<rect x="277.60" y="508.38" width="2.20" height="2.33" fill="#139a4a" stroke="#222" stroke-width="0.4"/>
<text x="272.00" y="508.15" font-size="7.7" fill="#231f20" text-anchor="end">6</text>
<rect x="277.60" y="514.89" width="14.80" height="2.33" fill="#6e2fa0" stroke="#222" stroke-width="0.4"/>
<rect x="277.60" y="517.22" width="8.70" height="2.33" fill="#12eeee" stroke="#222" stroke-width="0.4"/>
<rect x="277.60" y="519.55" width="7.20" height="2.33" fill="#2e6fb5" stroke="#222" stroke-width="0.4"/>
<rect x="277.60" y="521.88" width="1.90" height="2.33" fill="#139a4a" stroke="#222" stroke-width="0.4"/>
<text x="272.00" y="521.65" font-size="7.7" fill="#231f20" text-anchor="end">5</text>
<rect x="277.60" y="528.39" width="10.40" height="2.33" fill="#6e2fa0" stroke="#222" stroke-width="0.4"/>
<rect x="277.60" y="530.72" width="8.70" height="2.33" fill="#12eeee" stroke="#222" stroke-width="0.4"/>
<rect x="277.60" y="533.05" width="4.30" height="2.33" fill="#2e6fb5" stroke="#222" stroke-width="0.4"/>
<rect x="277.60" y="535.38" width="2.90" height="2.33" fill="#139a4a" stroke="#222" stroke-width="0.4"/>
<text x="272.00" y="535.15" font-size="7.7" fill="#231f20" text-anchor="end">4</text>
<rect x="277.60" y="541.89" width="9.30" height="2.33" fill="#6e2fa0" stroke="#222" stroke-width="0.4"/>
<rect x="277.60" y="544.22" width="11.30" height="2.33" fill="#12eeee" stroke="#222" stroke-width="0.4"/>
<rect x="277.60" y="546.55" width="3.10" height="2.33" fill="#2e6fb5" stroke="#222" stroke-width="0.4"/>
<rect x="277.60" y="548.88" width="2.90" height="2.33" fill="#139a4a" stroke="#222" stroke-width="0.4"/>
<text x="272.00" y="548.65" font-size="7.7" fill="#231f20" text-anchor="end">3</text>
<rect x="277.60" y="555.39" width="16.80" height="2.33" fill="#6e2fa0" stroke="#222" stroke-width="0.4"/>
<rect x="277.60" y="557.72" width="8.10" height="2.33" fill="#12eeee" stroke="#222" stroke-width="0.4"/>
<rect x="277.60" y="560.05" width="2.90" height="2.33" fill="#2e6fb5" stroke="#222" stroke-width="0.4"/>
<rect x="277.60" y="562.38" width="2.90" height="2.33" fill="#139a4a" stroke="#222" stroke-width="0.4"/>
<text x="272.00" y="562.15" font-size="7.7" fill="#231f20" text-anchor="end">2</text>
<rect x="277.60" y="568.89" width="29.30" height="2.33" fill="#6e2fa0" stroke="#222" stroke-width="0.4"/>
<rect x="277.60" y="571.22" width="53.30" height="2.33" fill="#12eeee" stroke="#222" stroke-width="0.4"/>
<rect x="277.60" y="573.55" width="83.80" height="2.33" fill="#2e6fb5" stroke="#222" stroke-width="0.4"/>
<rect x="277.60" y="575.88" width="99.30" height="2.33" fill="#139a4a" stroke="#222" stroke-width="0.4"/>
<text x="272.00" y="575.65" font-size="7.7" fill="#231f20" text-anchor="end">1</text>
<line x1="277.50" y1="350.90" x2="277.50" y2="580.10" stroke="#858585" stroke-width="1"/>
<line x1="277.60" y1="580.50" x2="389.00" y2="580.50" stroke="#858585" stroke-width="1"/>
<line x1="277.50" y1="580.10" x2="277.50" y2="582.10" stroke="#858585" stroke-width="0.8"/>
<line x1="314.50" y1="580.10" x2="314.50" y2="582.10" stroke="#858585" stroke-width="0.8"/>
<line x1="351.50" y1="580.10" x2="351.50" y2="582.10" stroke="#858585" stroke-width="0.8"/>
<line x1="388.50" y1="580.10" x2="388.50" y2="582.10" stroke="#858585" stroke-width="0.8"/>
<line x1="296.50" y1="350.90" x2="296.50" y2="581.50" stroke="#111" stroke-width="1.3" stroke-dasharray="4,2.3"/>
<text x="277.60" y="591.20" font-size="8.6" fill="#231f20" text-anchor="middle">0</text>
<text x="314.60" y="591.20" font-size="8.6" fill="#231f20" text-anchor="middle">2</text>
<text x="351.60" y="591.20" font-size="8.6" fill="#231f20" text-anchor="middle">4</text>
<text x="388.60" y="591.20" font-size="8.6" fill="#231f20" text-anchor="middle">6</text>
<text x="297.00" y="593.00" font-size="12.9" fill="#231f20" text-anchor="middle" textLength="7.30" lengthAdjust="spacingAndGlyphs">E</text>
<text x="263.60" y="604.40" font-size="11.3" fill="#231f20" textLength="21.10" lengthAdjust="spacingAndGlyphs">Fold</text>
<text x="288.50" y="604.60" font-size="8.8" fill="#231f20" textLength="94.90" lengthAdjust="spacingAndGlyphs">(normalized to expected)</text>
<text x="222.40" y="360.40" font-size="17.2" fill="#231f20">D</text>
<text x="243.60" y="471.60" font-size="12.4" fill="#231f20" text-anchor="middle" textLength="191.50" lengthAdjust="spacingAndGlyphs" transform="rotate(-90 243.60 471.60)" xml:space="preserve"><tspan font-style="italic">Evf2</tspan><tspan> regulated RNP binding across</tspan></text>
<text x="257.80" y="472.40" font-size="11.7" fill="#231f20" text-anchor="middle" textLength="89.60" lengthAdjust="spacingAndGlyphs" transform="rotate(-90 257.80 472.40)" xml:space="preserve"><tspan font-style="italic">chr11</tspan><tspan> RCDs:1-17</tspan></text>
<text x="331.10" y="361.00" font-size="11.6" fill="#231f20" textLength="42.00" lengthAdjust="spacingAndGlyphs" xml:space="preserve"><tspan font-style="italic">Evf2</tspan><tspan> (+)</tspan></text>
<text x="331.10" y="374.10" font-size="11.6" fill="#231f20" textLength="30.90" lengthAdjust="spacingAndGlyphs">RNPs</text>
<rect x="332.00" y="382.60" width="5.50" height="5.00" fill="#6e2fa0" stroke="#222" stroke-width="0.6"/>
<text x="339.90" y="388.60" font-size="10.6" fill="#231f20" textLength="41.80" lengthAdjust="spacingAndGlyphs">Smarcc2</text>
<rect x="332.00" y="398.20" width="5.50" height="5.00" fill="#12eeee" stroke="#222" stroke-width="0.6"/>
<text x="339.90" y="404.20" font-size="10.6" fill="#231f20" textLength="25.40" lengthAdjust="spacingAndGlyphs">Nono</text>
<rect x="332.00" y="413.90" width="5.50" height="5.00" fill="#2e6fb5" stroke="#222" stroke-width="0.6"/>
<text x="339.90" y="419.90" font-size="10.6" fill="#231f20" textLength="42.60" lengthAdjust="spacingAndGlyphs">Smarca4</text>
<rect x="332.00" y="429.30" width="5.50" height="5.00" fill="#139a4a" stroke="#222" stroke-width="0.6"/>
<text x="339.90" y="435.30" font-size="10.6" fill="#231f20" textLength="14.90" lengthAdjust="spacingAndGlyphs">Dlx</text>
<text x="0.30" y="618.20" font-size="17" fill="#231f20">E</text>
<line x1="50.30" y1="613.50" x2="390.50" y2="613.50" stroke="#2a2a2a" stroke-width="1"/>
<line x1="5.70" y1="624.50" x2="390.50" y2="624.50" stroke="#2a2a2a" stroke-width="1"/>
<line x1="5.70" y1="635.50" x2="390.50" y2="635.50" stroke="#2a2a2a" stroke-width="1"/>
<line x1="5.70" y1="646.00" x2="390.50" y2="646.00" stroke="#555" stroke-width="1.1"/>
<line x1="5.70" y1="656.50" x2="390.50" y2="656.50" stroke="#2a2a2a" stroke-width="1"/>
<line x1="5.70" y1="666.50" x2="390.50" y2="666.50" stroke="#2a2a2a" stroke-width="1"/>
<line x1="5.70" y1="677.00" x2="390.50" y2="677.00" stroke="#555" stroke-width="1.1"/>
<line x1="5.70" y1="687.50" x2="390.50" y2="687.50" stroke="#2a2a2a" stroke-width="1"/>
<line x1="5.50" y1="624.30" x2="5.50" y2="687.20" stroke="#2a2a2a" stroke-width="1"/>
<line x1="50.50" y1="613.50" x2="50.50" y2="687.20" stroke="#2a2a2a" stroke-width="1"/>
<line x1="136.50" y1="613.50" x2="136.50" y2="687.20" stroke="#2a2a2a" stroke-width="1"/>
<line x1="184.50" y1="624.30" x2="184.50" y2="687.20" stroke="#2a2a2a" stroke-width="1"/>
<line x1="231.50" y1="624.30" x2="231.50" y2="687.20" stroke="#2a2a2a" stroke-width="1"/>
<line x1="279.50" y1="624.30" x2="279.50" y2="687.20" stroke="#2a2a2a" stroke-width="1"/>
<line x1="316.50" y1="624.30" x2="316.50" y2="687.20" stroke="#2a2a2a" stroke-width="1"/>
<line x1="353.50" y1="624.30" x2="353.50" y2="687.20" stroke="#2a2a2a" stroke-width="1"/>
<line x1="390.50" y1="613.50" x2="390.50" y2="687.20" stroke="#2a2a2a" stroke-width="1"/>
<text x="53.00" y="622.00" font-size="8.4" fill="#222" xml:space="preserve"><tspan font-style="italic">Evf2</tspan><tspan font-style="italic"> regulated (+) /(-)</tspan></text>
<text x="263.60" y="622.30" font-size="9.9" fill="#231f20" text-anchor="middle">DNA binding motifs</text>
<text x="7.70" y="632.90" font-size="8.4" fill="#1a1a1a" xml:space="preserve"><tspan>RNPs</tspan></text>
<text x="52.30" y="632.90" font-size="8.4" fill="#1a1a1a" xml:space="preserve"><tspan>Peaks</tspan></text>
<text x="138.70" y="632.90" font-size="8.4" fill="#1a1a1a" xml:space="preserve"><tspan>Sox2</tspan></text>
<text x="186.80" y="632.90" font-size="8.4" fill="#1a1a1a" xml:space="preserve"><tspan>Dlx2</tspan></text>
<text x="233.60" y="632.90" font-size="8.4" fill="#1a1a1a" xml:space="preserve"><tspan>Dlx5</tspan></text>
<text x="281.60" y="632.90" font-size="8.4" fill="#1a1a1a" xml:space="preserve"><tspan>Sox2%</tspan></text>
<text x="318.80" y="632.90" font-size="8.4" fill="#1a1a1a" xml:space="preserve"><tspan>Dlx2%</tspan></text>
<text x="355.50" y="632.90" font-size="8.4" fill="#1a1a1a" xml:space="preserve"><tspan>Dlx5%</tspan></text>
<text x="7.70" y="643.40" font-size="8.4" fill="#1a1a1a" xml:space="preserve"><tspan>Sox2</tspan></text>
<text x="52.30" y="643.40" font-size="8.4" fill="#1a1a1a" textLength="39.27" lengthAdjust="spacingAndGlyphs" xml:space="preserve"><tspan font-weight="bold">28621</tspan><tspan>/4399</tspan></text>
<text x="138.70" y="643.40" font-size="8.4" fill="#1a1a1a" textLength="39.27" lengthAdjust="spacingAndGlyphs" xml:space="preserve"><tspan>10928/1898</tspan></text>
<text x="186.80" y="643.40" font-size="8.4" fill="#1a1a1a" textLength="39.27" lengthAdjust="spacingAndGlyphs" xml:space="preserve"><tspan>10513/1583</tspan></text>
<text x="233.60" y="643.40" font-size="8.4" fill="#1a1a1a" textLength="39.27" lengthAdjust="spacingAndGlyphs" xml:space="preserve"><tspan>10568/1872</tspan></text>
<text x="281.60" y="643.40" font-size="8.4" fill="#1a1a1a" textLength="31.00" lengthAdjust="spacingAndGlyphs" xml:space="preserve"><tspan>38.2/43.1</tspan></text>
<text x="318.80" y="643.40" font-size="8.4" fill="#1a1a1a" textLength="31.00" lengthAdjust="spacingAndGlyphs" xml:space="preserve"><tspan>36.7/36.0</tspan></text>
<text x="355.50" y="643.40" font-size="8.4" fill="#1a1a1a" textLength="31.00" lengthAdjust="spacingAndGlyphs" xml:space="preserve"><tspan>36.9/42.6</tspan></text>
<text x="7.70" y="653.70" font-size="8.4" fill="#1a1a1a" xml:space="preserve"><tspan>Dlx</tspan></text>
<text x="52.30" y="653.70" font-size="8.4" fill="#1a1a1a" textLength="35.14" lengthAdjust="spacingAndGlyphs" xml:space="preserve"><tspan>1783/</tspan><tspan font-weight="bold">4689</tspan></text>
<text x="138.70" y="653.70" font-size="8.4" fill="#1a1a1a" textLength="26.87" lengthAdjust="spacingAndGlyphs" xml:space="preserve"><tspan>32/3032</tspan></text>
<text x="186.80" y="653.70" font-size="8.4" fill="#1a1a1a" textLength="31.00" lengthAdjust="spacingAndGlyphs" xml:space="preserve"><tspan>104/2300</tspan></text>
<text x="233.60" y="653.70" font-size="8.4" fill="#1a1a1a" textLength="31.00" lengthAdjust="spacingAndGlyphs" xml:space="preserve"><tspan>234/2916</tspan></text>
<text x="281.60" y="653.70" font-size="8.4" fill="#1a1a1a" textLength="26.87" lengthAdjust="spacingAndGlyphs" xml:space="preserve"><tspan>1.8/</tspan><tspan font-weight="bold">64.7</tspan></text>
<text x="318.80" y="653.70" font-size="8.4" fill="#1a1a1a" textLength="26.87" lengthAdjust="spacingAndGlyphs" xml:space="preserve"><tspan>5.8/</tspan><tspan font-weight="bold">49.1</tspan></text>
<text x="355.50" y="653.70" font-size="8.4" fill="#1a1a1a" textLength="31.00" lengthAdjust="spacingAndGlyphs" xml:space="preserve"><tspan>13.1/</tspan><tspan font-weight="bold">62.2</tspan></text>
<text x="7.70" y="664.10" font-size="8.4" fill="#1a1a1a" xml:space="preserve"><tspan>Smarca4</tspan></text>
<text x="52.30" y="664.10" font-size="8.4" fill="#1a1a1a" textLength="35.14" lengthAdjust="spacingAndGlyphs" xml:space="preserve"><tspan font-weight="bold">5277</tspan><tspan>/3983</tspan></text>
<text x="138.70" y="664.10" font-size="8.4" fill="#1a1a1a" textLength="31.00" lengthAdjust="spacingAndGlyphs" xml:space="preserve"><tspan>153/2697</tspan></text>
<text x="186.80" y="664.10" font-size="8.4" fill="#1a1a1a" textLength="31.00" lengthAdjust="spacingAndGlyphs" xml:space="preserve"><tspan>199/2091</tspan></text>
<text x="233.60" y="664.10" font-size="8.4" fill="#1a1a1a" textLength="26.87" lengthAdjust="spacingAndGlyphs" xml:space="preserve"><tspan>55/2559</tspan></text>
<text x="281.60" y="664.10" font-size="8.4" fill="#1a1a1a" textLength="26.87" lengthAdjust="spacingAndGlyphs" xml:space="preserve"><tspan>2.9/</tspan><tspan font-weight="bold">67.7</tspan></text>
<text x="318.80" y="664.10" font-size="8.4" fill="#1a1a1a" textLength="26.87" lengthAdjust="spacingAndGlyphs" xml:space="preserve"><tspan>3.8/</tspan><tspan font-weight="bold">52.5</tspan></text>
<text x="355.50" y="664.10" font-size="8.4" fill="#1a1a1a" textLength="26.87" lengthAdjust="spacingAndGlyphs" xml:space="preserve"><tspan>1.0/</tspan><tspan font-weight="bold">64.3</tspan></text>
<text x="7.70" y="674.50" font-size="8.4" fill="#1a1a1a" xml:space="preserve"><tspan>Smarcc2</tspan></text>
<text x="52.30" y="674.50" font-size="8.4" fill="#1a1a1a" textLength="47.54" lengthAdjust="spacingAndGlyphs" xml:space="preserve"><tspan font-weight="bold">187601</tspan><tspan>/32903</tspan></text>
<text x="138.70" y="674.50" font-size="8.4" fill="#1a1a1a" textLength="18.60" lengthAdjust="spacingAndGlyphs" xml:space="preserve"><tspan>97/43</tspan></text>
<text x="186.80" y="674.50" font-size="8.4" fill="#1a1a1a" textLength="26.87" lengthAdjust="spacingAndGlyphs" xml:space="preserve"><tspan>2028/46</tspan></text>
<text x="233.60" y="674.50" font-size="8.4" fill="#1a1a1a" textLength="18.60" lengthAdjust="spacingAndGlyphs" xml:space="preserve"><tspan>100/1</tspan></text>
<text x="281.60" y="674.50" font-size="8.4" fill="#1a1a1a" textLength="22.73" lengthAdjust="spacingAndGlyphs" xml:space="preserve"><tspan>0.1/0.1</tspan></text>
<text x="318.80" y="674.50" font-size="8.4" fill="#1a1a1a" textLength="22.73" lengthAdjust="spacingAndGlyphs" xml:space="preserve"><tspan>1.1/0.1</tspan></text>
<text x="355.50" y="674.50" font-size="8.4" fill="#1a1a1a" textLength="22.73" lengthAdjust="spacingAndGlyphs" xml:space="preserve"><tspan>0.1/0.0</tspan></text>
<text x="7.70" y="684.90" font-size="8.4" fill="#1a1a1a" xml:space="preserve"><tspan>Nono</tspan></text>
<text x="52.30" y="684.90" font-size="8.4" fill="#1a1a1a" textLength="43.41" lengthAdjust="spacingAndGlyphs" xml:space="preserve"><tspan font-weight="bold">55005</tspan><tspan>/32434</tspan></text>
<text x="138.70" y="684.90" font-size="8.4" fill="#1a1a1a" textLength="18.60" lengthAdjust="spacingAndGlyphs" xml:space="preserve"><tspan>34/61</tspan></text>
<text x="186.80" y="684.90" font-size="8.4" fill="#1a1a1a" textLength="22.74" lengthAdjust="spacingAndGlyphs" xml:space="preserve"><tspan>538/49</tspan></text>
<text x="233.60" y="684.90" font-size="8.4" fill="#1a1a1a" textLength="14.47" lengthAdjust="spacingAndGlyphs" xml:space="preserve"><tspan>44/2</tspan></text>
<text x="281.60" y="684.90" font-size="8.4" fill="#1a1a1a" textLength="22.73" lengthAdjust="spacingAndGlyphs" xml:space="preserve"><tspan>0.1/0.2</tspan></text>
<text x="318.80" y="684.90" font-size="8.4" fill="#1a1a1a" textLength="22.73" lengthAdjust="spacingAndGlyphs" xml:space="preserve"><tspan>1.0/0.2</tspan></text>
<text x="355.50" y="684.90" font-size="8.4" fill="#1a1a1a" textLength="22.73" lengthAdjust="spacingAndGlyphs" xml:space="preserve"><tspan>0.1/0.0</tspan></text>
<text x="1.20" y="704.60" font-size="17" fill="#231f20">F</text>
<text x="193.20" y="703.80" font-size="12.4" fill="#231f20" textLength="25.00" lengthAdjust="spacingAndGlyphs" style="font-style:italic">chr6</text>
<text x="109.00" y="717.40" font-size="12.2" fill="#231f20" text-anchor="end" textLength="70.50" lengthAdjust="spacingAndGlyphs" xml:space="preserve"><tspan font-style="italic">Evf1/2</tspan><tspan> RCDs</tspan></text>
<rect x="116.90" y="707.60" width="64.50" height="12.30" fill="#d2d2d2" stroke="#3a3a3a" stroke-width="0.7"/>
<text x="149.15" y="716.30" font-size="8.2" fill="#1e1e1e" text-anchor="middle">1 & 2</text>
<rect x="181.40" y="707.60" width="47.00" height="12.30" fill="#fdeac0" stroke="#3a3a3a" stroke-width="0.7"/>
<text x="204.90" y="716.30" font-size="8.2" fill="#1e1e1e" text-anchor="middle">3</text>
<rect x="228.40" y="707.60" width="46.90" height="12.30" fill="#e0f6ca" stroke="#3a3a3a" stroke-width="0.7"/>
<text x="251.85" y="716.30" font-size="8.2" fill="#1e1e1e" text-anchor="middle">4</text>
<rect x="275.30" y="707.60" width="17.10" height="12.30" fill="#eff3fc" stroke="#3a3a3a" stroke-width="0.7"/>
<text x="283.85" y="716.30" font-size="8.2" fill="#1e1e1e" text-anchor="middle">5</text>
<text x="73.90" y="740.40" font-size="11.2" fill="#231f20" text-anchor="end" textLength="26.60" lengthAdjust="spacingAndGlyphs">Nono</text>
<text x="77.60" y="736.30" font-size="6.6" fill="#231f20" textLength="31.90" lengthAdjust="spacingAndGlyphs">(expected)</text>
<text x="73.90" y="757.40" font-size="11.2" fill="#231f20" text-anchor="end" textLength="44.10" lengthAdjust="spacingAndGlyphs">Smarcc2</text>
<text x="77.60" y="752.70" font-size="6.6" fill="#231f20" textLength="31.90" lengthAdjust="spacingAndGlyphs">(expected)</text>
<rect x="117.40" y="732.50" width="64.00" height="10.80" fill="#d2d2d2" stroke="#3a3a3a" stroke-width="0.7"/>
<text x="149.40" y="740.45" font-size="8.2" fill="#1e1e1e" text-anchor="middle">18</text>
<rect x="181.40" y="732.50" width="47.00" height="10.80" fill="#fde1a0" stroke="#3a3a3a" stroke-width="0.7"/>
<text x="204.90" y="740.45" font-size="8.2" fill="#1e1e1e" text-anchor="middle">13</text>
<rect x="228.40" y="732.50" width="46.90" height="10.80" fill="#c9e2b4" stroke="#3a3a3a" stroke-width="0.7"/>
<text x="251.85" y="740.45" font-size="8.2" fill="#1e1e1e" text-anchor="middle">13</text>
<rect x="275.30" y="732.50" width="17.10" height="10.80" fill="#d7dff2" stroke="#3a3a3a" stroke-width="0.7"/>
<text x="283.85" y="740.45" font-size="8.2" fill="#1e1e1e" text-anchor="middle">5</text>
<rect x="117.40" y="747.00" width="64.00" height="10.90" fill="#d2d2d2" stroke="#3a3a3a" stroke-width="0.7"/>
<text x="149.40" y="755.00" font-size="8.2" fill="#1e1e1e" text-anchor="middle">36</text>
<rect x="181.40" y="747.00" width="47.40" height="10.90" fill="#fde1a0" stroke="#3a3a3a" stroke-width="0.7"/>
<text x="205.10" y="755.00" font-size="8.2" fill="#1e1e1e" text-anchor="middle">27</text>
<rect x="228.80" y="747.00" width="47.50" height="10.90" fill="#c9e2b4" stroke="#3a3a3a" stroke-width="0.7"/>
<text x="252.55" y="755.00" font-size="8.2" fill="#1e1e1e" text-anchor="middle">27</text>
<rect x="276.30" y="747.00" width="16.10" height="10.90" fill="#d7dff2" stroke="#3a3a3a" stroke-width="0.7"/>
<text x="284.35" y="755.00" font-size="8.2" fill="#1e1e1e" text-anchor="middle">9</text>
<line x1="117.50" y1="729.40" x2="117.50" y2="761.00" stroke="#3a3a3a" stroke-width="0.9"/>
<text x="148.40" y="772.10" font-size="11" fill="#e4198b" text-anchor="middle" textLength="20.10" lengthAdjust="spacingAndGlyphs">Tcf3</text>
<text x="123.10" y="785.20" font-size="11" fill="#222" xml:space="preserve"><tspan>Ascl2,</tspan></text>
<text x="154.00" y="785.20" font-size="11" fill="#2e8bd3" textLength="18.80" lengthAdjust="spacingAndGlyphs">Atf1</text>
<line x1="148.50" y1="790.90" x2="148.50" y2="795.50" stroke="#222" stroke-width="1.1"/>
<text x="239.60" y="772.10" font-size="11" fill="#e4198b" text-anchor="middle" textLength="20.10" lengthAdjust="spacingAndGlyphs">Tcf3</text>
<text x="239.60" y="785.20" font-size="11" fill="#9c4fc9" text-anchor="middle" textLength="34.60" lengthAdjust="spacingAndGlyphs">Pou2f2</text>
<line x1="239.50" y1="790.90" x2="239.50" y2="795.50" stroke="#222" stroke-width="1.1"/>
<text x="281.00" y="772.10" font-size="11" fill="#3cb44b" text-anchor="middle" textLength="31.60" lengthAdjust="spacingAndGlyphs">Hoxb9</text>
<text x="281.00" y="785.20" font-size="11" fill="#222" text-anchor="middle" textLength="27.20" lengthAdjust="spacingAndGlyphs">Ascl2</text>
<line x1="281.50" y1="790.90" x2="281.50" y2="795.50" stroke="#222" stroke-width="1.1"/>
<text x="109.00" y="802.20" font-size="11.8" fill="#231f20" text-anchor="end" textLength="81.80" lengthAdjust="spacingAndGlyphs" xml:space="preserve"><tspan font-style="italic">Evf2</tspan><tspan> reg. Nono</tspan></text>
<text x="109.00" y="816.50" font-size="11.2" fill="#231f20" text-anchor="end" textLength="79.20" lengthAdjust="spacingAndGlyphs">χ²=8.99, p=0.03</text>
<rect x="118.10" y="798.80" width="88.50" height="14.00" fill="#d2d2d2" stroke="#3a3a3a" stroke-width="0.7"/>
<text x="162.35" y="808.71" font-size="9.2" fill="#1e1e1e" text-anchor="middle">25</text>
<rect x="206.60" y="798.80" width="21.90" height="14.00" fill="#fde1a0" stroke="#3a3a3a" stroke-width="0.7"/>
<text x="217.55" y="808.71" font-size="9.2" fill="#1e1e1e" text-anchor="middle">6</text>
<rect x="228.50" y="798.80" width="56.90" height="14.00" fill="#c9e2b4" stroke="#3a3a3a" stroke-width="0.7"/>
<text x="256.95" y="808.71" font-size="9.2" fill="#1e1e1e" text-anchor="middle">16</text>
<rect x="285.40" y="798.80" width="7.30" height="14.00" fill="#d7dff2" stroke="#3a3a3a" stroke-width="0.7"/>
<text x="289.05" y="808.71" font-size="9.2" fill="#1e1e1e" text-anchor="middle">2</text>
<line x1="117.50" y1="795.20" x2="117.50" y2="816.00" stroke="#3a3a3a" stroke-width="0.9"/>
<line x1="205.00" y1="822.20" x2="211.00" y2="816.90" stroke="#222" stroke-width="1.1"/>
<text x="196.30" y="833.30" font-size="11" fill="#1ca5d8" text-anchor="middle" textLength="22.90" lengthAdjust="spacingAndGlyphs">Hic1</text>
<line x1="183.20" y1="844.80" x2="189.00" y2="840.40" stroke="#222" stroke-width="1.1"/>
<text x="109.00" y="849.80" font-size="11.8" fill="#231f20" text-anchor="end" textLength="101.10" lengthAdjust="spacingAndGlyphs" xml:space="preserve"><tspan font-style="italic">Evf2</tspan><tspan> reg. Smarcc2</tspan></text>
<text x="109.00" y="863.00" font-size="11.2" fill="#231f20" text-anchor="end" textLength="102.30" lengthAdjust="spacingAndGlyphs">χ²=38.7, p=1.98E-08</text>
<rect x="117.50" y="848.30" width="19.00" height="12.60" fill="#d2d2d2" stroke="#3a3a3a" stroke-width="0.7"/>
<text x="127.00" y="857.51" font-size="9.2" fill="#1e1e1e" text-anchor="middle">11</text>
<rect x="136.50" y="848.30" width="69.50" height="12.60" fill="#fde1a0" stroke="#3a3a3a" stroke-width="0.7"/>
<text x="171.25" y="857.51" font-size="9.2" fill="#1e1e1e" text-anchor="middle">39</text>
<rect x="206.00" y="848.30" width="49.30" height="12.60" fill="#c9e2b4" stroke="#3a3a3a" stroke-width="0.7"/>
<text x="230.65" y="857.51" font-size="9.2" fill="#1e1e1e" text-anchor="middle">28</text>
<rect x="255.30" y="848.30" width="37.40" height="12.60" fill="#d7dff2" stroke="#3a3a3a" stroke-width="0.7"/>
<text x="274.00" y="857.51" font-size="9.2" fill="#1e1e1e" text-anchor="middle">21</text>
<line x1="117.50" y1="846.40" x2="117.50" y2="866.30" stroke="#3a3a3a" stroke-width="0.9"/>
<line x1="126.50" y1="865.30" x2="126.50" y2="872.60" stroke="#222" stroke-width="1.1"/>
<line x1="177.50" y1="865.30" x2="177.50" y2="872.60" stroke="#222" stroke-width="1.1"/>
<line x1="239.50" y1="865.30" x2="239.50" y2="872.60" stroke="#222" stroke-width="1.1"/>
<line x1="281.50" y1="865.30" x2="281.50" y2="872.60" stroke="#222" stroke-width="1.1"/>
<text x="126.90" y="883.80" font-size="11" fill="#1ca5d8" text-anchor="middle" textLength="22.90" lengthAdjust="spacingAndGlyphs">Hic1</text>
<text x="177.40" y="883.80" font-size="11" fill="#e4198b" text-anchor="middle" textLength="20.10" lengthAdjust="spacingAndGlyphs">Tcf3</text>
<text x="177.40" y="896.90" font-size="11" fill="#9c4fc9" text-anchor="middle" textLength="34.60" lengthAdjust="spacingAndGlyphs">Pou2f2</text>
<text x="177.40" y="910.60" font-size="11" fill="#222" text-anchor="middle" textLength="22.50" lengthAdjust="spacingAndGlyphs">Rfx1</text>
<text x="239.60" y="883.80" font-size="11" fill="#3cb44b" text-anchor="middle" textLength="31.60" lengthAdjust="spacingAndGlyphs">Hoxb9</text>
<text x="239.60" y="896.90" font-size="11" fill="#2e8bd3" text-anchor="middle" textLength="18.80" lengthAdjust="spacingAndGlyphs">Atf1</text>
<text x="281.00" y="883.80" font-size="11" fill="#222" text-anchor="middle" textLength="22.50" lengthAdjust="spacingAndGlyphs">Rfx1</text>
<line x1="550.50" y1="4.66" x2="550.50" y2="333.30" stroke="#dcdcdc" stroke-width="0.8"/>
<line x1="594.50" y1="4.66" x2="594.50" y2="333.30" stroke="#dcdcdc" stroke-width="0.8"/>
<line x1="637.50" y1="4.66" x2="637.50" y2="33.50" stroke="#dcdcdc" stroke-width="0.8"/>
<line x1="637.50" y1="76.00" x2="637.50" y2="333.30" stroke="#dcdcdc" stroke-width="0.8"/>
<line x1="681.50" y1="4.66" x2="681.50" y2="33.50" stroke="#dcdcdc" stroke-width="0.8"/>
<line x1="681.50" y1="76.00" x2="681.50" y2="333.30" stroke="#dcdcdc" stroke-width="0.8"/>
<rect x="463.50" y="6.42" width="14.40" height="2.35" fill="#6e6e6e" stroke="#262626" stroke-width="0.45"/>
<rect x="463.50" y="8.77" width="53.90" height="2.35" fill="#d4d4d4" stroke="#3c3c3c" stroke-width="0.5"/>
<text x="457.30" y="11.37" font-size="8.6" fill="#231f20" text-anchor="end">5</text>
<rect x="463.50" y="14.63" width="9.50" height="2.35" fill="#6e6e6e" stroke="#262626" stroke-width="0.45"/>
<rect x="463.50" y="16.98" width="43.40" height="2.35" fill="#d4d4d4" stroke="#3c3c3c" stroke-width="0.5"/>
<text x="457.30" y="19.58" font-size="8.6" fill="#231f20" text-anchor="end">4</text>
<rect x="463.50" y="22.85" width="9.90" height="2.35" fill="#6e6e6e" stroke="#262626" stroke-width="0.45"/>
<rect x="463.50" y="25.20" width="38.10" height="2.35" fill="#d4d4d4" stroke="#3c3c3c" stroke-width="0.5"/>
<text x="457.30" y="27.80" font-size="8.6" fill="#231f20" text-anchor="end">3</text>
<rect x="463.50" y="33.42" width="89.30" height="2.35" fill="#d4d4d4" stroke="#3c3c3c" stroke-width="0.5"/>
<text x="457.30" y="36.02" font-size="8.6" fill="#231f20" text-anchor="end">2</text>
<rect x="463.50" y="39.28" width="116.40" height="2.35" fill="#6e6e6e" stroke="#262626" stroke-width="0.45"/>
<rect x="463.50" y="41.63" width="39.10" height="2.35" fill="#d4d4d4" stroke="#3c3c3c" stroke-width="0.5"/>
<text x="457.30" y="44.23" font-size="8.6" fill="#231f20" text-anchor="end">1</text>
<text x="438.40" y="25.20" font-size="8.6" fill="#231f20" text-anchor="middle" transform="rotate(-90 438.40 25.20)">chr6</text>
<rect x="463.50" y="58.06" width="76.20" height="2.35" fill="#d4d4d4" stroke="#3c3c3c" stroke-width="0.5"/>
<text x="457.30" y="60.66" font-size="8.6" fill="#231f20" text-anchor="end">9</text>
<rect x="463.50" y="66.28" width="51.60" height="2.35" fill="#d4d4d4" stroke="#3c3c3c" stroke-width="0.5"/>
<text x="457.30" y="68.88" font-size="8.6" fill="#231f20" text-anchor="end">8</text>
<rect x="463.50" y="74.50" width="71.70" height="2.35" fill="#d4d4d4" stroke="#3c3c3c" stroke-width="0.5"/>
<text x="457.30" y="77.10" font-size="8.6" fill="#231f20" text-anchor="end">7</text>
<rect x="463.50" y="80.36" width="103.00" height="2.35" fill="#6e6e6e" stroke="#262626" stroke-width="0.45"/>
<rect x="463.50" y="82.71" width="70.30" height="2.35" fill="#d4d4d4" stroke="#3c3c3c" stroke-width="0.5"/>
<text x="457.30" y="85.31" font-size="8.6" fill="#231f20" text-anchor="end">6</text>
<rect x="463.50" y="90.93" width="80.30" height="2.35" fill="#d4d4d4" stroke="#3c3c3c" stroke-width="0.5"/>
<text x="457.30" y="93.53" font-size="8.6" fill="#231f20" text-anchor="end">5</text>
<rect x="463.50" y="99.14" width="41.30" height="2.35" fill="#d4d4d4" stroke="#3c3c3c" stroke-width="0.5"/>
<text x="457.30" y="101.74" font-size="8.6" fill="#231f20" text-anchor="end">4</text>
<rect x="463.50" y="105.01" width="47.10" height="2.35" fill="#6e6e6e" stroke="#262626" stroke-width="0.45"/>
<rect x="463.50" y="107.36" width="46.00" height="2.35" fill="#d4d4d4" stroke="#3c3c3c" stroke-width="0.5"/>
<text x="457.30" y="109.96" font-size="8.6" fill="#231f20" text-anchor="end">3</text>
<rect x="463.50" y="113.23" width="69.10" height="2.35" fill="#6e6e6e" stroke="#262626" stroke-width="0.45"/>
<rect x="463.50" y="115.58" width="27.00" height="2.35" fill="#d4d4d4" stroke="#3c3c3c" stroke-width="0.5"/>
<text x="457.30" y="118.18" font-size="8.6" fill="#231f20" text-anchor="end">2</text>
<rect x="463.50" y="123.79" width="21.40" height="2.35" fill="#d4d4d4" stroke="#3c3c3c" stroke-width="0.5"/>
<text x="457.30" y="126.39" font-size="8.6" fill="#231f20" text-anchor="end">1</text>
<text x="438.40" y="86.82" font-size="8.6" fill="#231f20" text-anchor="middle" transform="rotate(-90 438.40 86.82)">chr15</text>
<rect x="463.50" y="140.22" width="54.10" height="2.35" fill="#d4d4d4" stroke="#3c3c3c" stroke-width="0.5"/>
<text x="457.30" y="142.82" font-size="8.6" fill="#231f20" text-anchor="end">6</text>
<rect x="463.50" y="146.09" width="39.90" height="2.35" fill="#6e6e6e" stroke="#262626" stroke-width="0.45"/>
<rect x="463.50" y="148.44" width="39.90" height="2.35" fill="#d4d4d4" stroke="#3c3c3c" stroke-width="0.5"/>
<text x="457.30" y="151.04" font-size="8.6" fill="#231f20" text-anchor="end">5</text>
<rect x="463.50" y="156.66" width="66.80" height="2.35" fill="#d4d4d4" stroke="#3c3c3c" stroke-width="0.5"/>
<text x="457.30" y="159.26" font-size="8.6" fill="#231f20" text-anchor="end">4</text>
<rect x="463.50" y="162.52" width="206.50" height="2.35" fill="#6e6e6e" stroke="#262626" stroke-width="0.45"/>
<rect x="463.50" y="164.87" width="19.10" height="2.35" fill="#d4d4d4" stroke="#3c3c3c" stroke-width="0.5"/>
<text x="457.30" y="167.47" font-size="8.6" fill="#231f20" text-anchor="end">3</text>
<rect x="463.50" y="173.09" width="55.10" height="2.35" fill="#d4d4d4" stroke="#3c3c3c" stroke-width="0.5"/>
<text x="457.30" y="175.69" font-size="8.6" fill="#231f20" text-anchor="end">2</text>
<rect x="463.50" y="178.95" width="131.20" height="2.35" fill="#6e6e6e" stroke="#262626" stroke-width="0.45"/>
<rect x="463.50" y="181.30" width="20.00" height="2.35" fill="#d4d4d4" stroke="#3c3c3c" stroke-width="0.5"/>
<text x="457.30" y="183.90" font-size="8.6" fill="#231f20" text-anchor="end">1</text>
<text x="438.40" y="156.66" font-size="8.6" fill="#231f20" text-anchor="middle" transform="rotate(-90 438.40 156.66)">chr16</text>
<text x="457.30" y="200.34" font-size="8.6" fill="#231f20" text-anchor="end">3</text>
<rect x="463.50" y="203.60" width="62.80" height="2.35" fill="#6e6e6e" stroke="#262626" stroke-width="0.45"/>
<rect x="463.50" y="205.95" width="49.20" height="2.35" fill="#d4d4d4" stroke="#3c3c3c" stroke-width="0.5"/>
<text x="457.30" y="208.55" font-size="8.6" fill="#231f20" text-anchor="end">2</text>
<rect x="463.50" y="214.17" width="31.20" height="2.35" fill="#d4d4d4" stroke="#3c3c3c" stroke-width="0.5"/>
<text x="457.30" y="216.77" font-size="8.6" fill="#231f20" text-anchor="end">1</text>
<text x="438.40" y="201.84" font-size="8.6" fill="#231f20" text-anchor="middle" transform="rotate(-90 438.40 201.84)">chrX</text>
<rect x="463.50" y="230.60" width="42.90" height="2.35" fill="#d4d4d4" stroke="#3c3c3c" stroke-width="0.5"/>
<text x="457.30" y="233.20" font-size="8.6" fill="#231f20" text-anchor="end">13</text>
<rect x="463.50" y="236.47" width="59.30" height="2.35" fill="#6e6e6e" stroke="#262626" stroke-width="0.45"/>
<rect x="463.50" y="238.82" width="51.80" height="2.35" fill="#d4d4d4" stroke="#3c3c3c" stroke-width="0.5"/>
<text x="457.30" y="241.42" font-size="8.6" fill="#231f20" text-anchor="end">12</text>
<rect x="463.50" y="247.03" width="49.20" height="2.35" fill="#d4d4d4" stroke="#3c3c3c" stroke-width="0.5"/>
<text x="457.30" y="249.63" font-size="8.6" fill="#231f20" text-anchor="end">11</text>
<rect x="463.50" y="252.90" width="77.30" height="2.35" fill="#6e6e6e" stroke="#262626" stroke-width="0.45"/>
<rect x="463.50" y="255.25" width="31.70" height="2.35" fill="#d4d4d4" stroke="#3c3c3c" stroke-width="0.5"/>
<text x="457.30" y="257.85" font-size="8.6" fill="#231f20" text-anchor="end">10</text>
<rect x="463.50" y="263.46" width="76.30" height="2.35" fill="#d4d4d4" stroke="#3c3c3c" stroke-width="0.5"/>
<text x="457.30" y="266.06" font-size="8.6" fill="#231f20" text-anchor="end">9</text>
<rect x="463.50" y="271.68" width="69.30" height="2.35" fill="#d4d4d4" stroke="#3c3c3c" stroke-width="0.5"/>
<text x="457.30" y="274.28" font-size="8.6" fill="#231f20" text-anchor="end">8</text>
<rect x="463.50" y="279.90" width="64.20" height="2.35" fill="#d4d4d4" stroke="#3c3c3c" stroke-width="0.5"/>
<text x="457.30" y="282.50" font-size="8.6" fill="#231f20" text-anchor="end">7</text>
<rect x="463.50" y="288.11" width="65.10" height="2.35" fill="#d4d4d4" stroke="#3c3c3c" stroke-width="0.5"/>
<text x="457.30" y="290.71" font-size="8.6" fill="#231f20" text-anchor="end">6</text>
<rect x="463.50" y="293.98" width="60.50" height="2.35" fill="#6e6e6e" stroke="#262626" stroke-width="0.45"/>
<rect x="463.50" y="296.33" width="67.50" height="2.35" fill="#d4d4d4" stroke="#3c3c3c" stroke-width="0.5"/>
<text x="457.30" y="298.93" font-size="8.6" fill="#231f20" text-anchor="end">5</text>
<rect x="463.50" y="304.54" width="43.60" height="2.35" fill="#d4d4d4" stroke="#3c3c3c" stroke-width="0.5"/>
<text x="457.30" y="307.14" font-size="8.6" fill="#231f20" text-anchor="end">4</text>
<rect x="463.50" y="312.76" width="3.20" height="2.35" fill="#d4d4d4" stroke="#3c3c3c" stroke-width="0.5"/>
<text x="457.30" y="315.36" font-size="8.6" fill="#231f20" text-anchor="end">3</text>
<rect x="463.50" y="318.63" width="138.10" height="2.35" fill="#6e6e6e" stroke="#262626" stroke-width="0.45"/>
<rect x="463.50" y="320.98" width="21.50" height="2.35" fill="#d4d4d4" stroke="#3c3c3c" stroke-width="0.5"/>
<text x="457.30" y="323.58" font-size="8.6" fill="#231f20" text-anchor="end">2</text>
<rect x="463.50" y="326.84" width="207.30" height="2.35" fill="#6e6e6e" stroke="#262626" stroke-width="0.45"/>
<rect x="463.50" y="329.19" width="7.20" height="2.35" fill="#d4d4d4" stroke="#3c3c3c" stroke-width="0.5"/>
<text x="457.30" y="331.79" font-size="8.6" fill="#231f20" text-anchor="end">1</text>
<text x="438.40" y="275.79" font-size="8.6" fill="#231f20" text-anchor="middle" transform="rotate(-90 438.40 275.79)">chr13</text>
<line x1="430.60" y1="4.66" x2="463.50" y2="4.66" stroke="#a0a0a0" stroke-width="1.25"/>
<line x1="430.60" y1="45.74" x2="463.50" y2="45.74" stroke="#a0a0a0" stroke-width="1.25"/>
<line x1="430.60" y1="127.90" x2="463.50" y2="127.90" stroke="#a0a0a0" stroke-width="1.25"/>
<line x1="430.60" y1="185.41" x2="463.50" y2="185.41" stroke="#a0a0a0" stroke-width="1.25"/>
<line x1="430.60" y1="218.28" x2="463.50" y2="218.28" stroke="#a0a0a0" stroke-width="1.25"/>
<line x1="430.60" y1="333.50" x2="685.00" y2="333.50" stroke="#555" stroke-width="1"/>
<line x1="463.50" y1="4.66" x2="463.50" y2="333.30" stroke="#4a4a4a" stroke-width="1"/>
<line x1="463.50" y1="333.30" x2="463.50" y2="335.30" stroke="#858585" stroke-width="0.7"/>
<line x1="472.22" y1="333.30" x2="472.22" y2="335.30" stroke="#858585" stroke-width="0.7"/>
<line x1="480.94" y1="333.30" x2="480.94" y2="335.30" stroke="#858585" stroke-width="0.7"/>
<line x1="489.66" y1="333.30" x2="489.66" y2="335.30" stroke="#858585" stroke-width="0.7"/>
<line x1="498.38" y1="333.30" x2="498.38" y2="335.30" stroke="#858585" stroke-width="0.7"/>
<line x1="507.10" y1="333.30" x2="507.10" y2="335.30" stroke="#858585" stroke-width="0.7"/>
<line x1="515.82" y1="333.30" x2="515.82" y2="335.30" stroke="#858585" stroke-width="0.7"/>
<line x1="524.54" y1="333.30" x2="524.54" y2="335.30" stroke="#858585" stroke-width="0.7"/>
<line x1="533.26" y1="333.30" x2="533.26" y2="335.30" stroke="#858585" stroke-width="0.7"/>
<line x1="541.98" y1="333.30" x2="541.98" y2="335.30" stroke="#858585" stroke-width="0.7"/>
<line x1="550.70" y1="333.30" x2="550.70" y2="335.30" stroke="#858585" stroke-width="0.7"/>
<line x1="559.42" y1="333.30" x2="559.42" y2="335.30" stroke="#858585" stroke-width="0.7"/>
<line x1="568.14" y1="333.30" x2="568.14" y2="335.30" stroke="#858585" stroke-width="0.7"/>
<line x1="576.86" y1="333.30" x2="576.86" y2="335.30" stroke="#858585" stroke-width="0.7"/>
<line x1="585.58" y1="333.30" x2="585.58" y2="335.30" stroke="#858585" stroke-width="0.7"/>
<line x1="594.30" y1="333.30" x2="594.30" y2="335.30" stroke="#858585" stroke-width="0.7"/>
<line x1="603.02" y1="333.30" x2="603.02" y2="335.30" stroke="#858585" stroke-width="0.7"/>
<line x1="611.74" y1="333.30" x2="611.74" y2="335.30" stroke="#858585" stroke-width="0.7"/>
<line x1="620.46" y1="333.30" x2="620.46" y2="335.30" stroke="#858585" stroke-width="0.7"/>
<line x1="629.18" y1="333.30" x2="629.18" y2="335.30" stroke="#858585" stroke-width="0.7"/>
<line x1="637.90" y1="333.30" x2="637.90" y2="335.30" stroke="#858585" stroke-width="0.7"/>
<line x1="646.62" y1="333.30" x2="646.62" y2="335.30" stroke="#858585" stroke-width="0.7"/>
<line x1="655.34" y1="333.30" x2="655.34" y2="335.30" stroke="#858585" stroke-width="0.7"/>
<line x1="664.06" y1="333.30" x2="664.06" y2="335.30" stroke="#858585" stroke-width="0.7"/>
<line x1="672.78" y1="333.30" x2="672.78" y2="335.30" stroke="#858585" stroke-width="0.7"/>
<line x1="681.50" y1="333.30" x2="681.50" y2="335.30" stroke="#858585" stroke-width="0.7"/>
<line x1="507.50" y1="0.50" x2="507.50" y2="337.00" stroke="#111" stroke-width="1.3" stroke-dasharray="4,2.3"/>
<text x="463.50" y="343.30" font-size="7.9" fill="#231f20" text-anchor="middle">0</text>
<text x="507.10" y="343.30" font-size="7.9" fill="#231f20" text-anchor="middle">1</text>
<text x="550.70" y="343.30" font-size="7.9" fill="#231f20" text-anchor="middle">2</text>
<text x="594.30" y="343.30" font-size="7.9" fill="#231f20" text-anchor="middle">3</text>
<text x="637.90" y="343.30" font-size="7.9" fill="#231f20" text-anchor="middle">4</text>
<text x="681.50" y="343.30" font-size="7.9" fill="#231f20" text-anchor="middle">5</text>
<text x="507.60" y="356.60" font-size="13.3" fill="#231f20" text-anchor="middle" textLength="8.00" lengthAdjust="spacingAndGlyphs">E</text>
<text x="545.00" y="354.30" font-size="11.3" fill="#231f20" textLength="21.40" lengthAdjust="spacingAndGlyphs">Fold</text>
<text x="571.00" y="354.80" font-size="9.0" fill="#231f20" textLength="101.20" lengthAdjust="spacingAndGlyphs">(normalized to expected)</text>
<text x="395.00" y="15.20" font-size="17" fill="#231f20">G</text>
<text x="409.50" y="168.20" font-size="13.2" fill="#231f20" text-anchor="middle" textLength="255.70" lengthAdjust="spacingAndGlyphs" transform="rotate(-90 409.50 168.20)">Inter- and Intra-chr HiC loops across RCDs:</text>
<text x="425.50" y="168.30" font-size="13.2" fill="#231f20" text-anchor="middle" textLength="108.20" lengthAdjust="spacingAndGlyphs" transform="rotate(-90 425.50 168.30)">chr6, 15, 16, X, 13</text>
<text x="652.10" y="13.60" font-size="12.6" fill="#231f20" text-anchor="middle" textLength="21.10" lengthAdjust="spacingAndGlyphs">HiC</text>
<text x="652.00" y="30.00" font-size="12.6" fill="#231f20" text-anchor="middle" textLength="30.00" lengthAdjust="spacingAndGlyphs">loops</text>
<rect x="624.40" y="39.70" width="6.40" height="5.80" fill="#6e6e6e" stroke="#262626" stroke-width="0.7"/>
<rect x="624.40" y="61.60" width="6.40" height="5.80" fill="#d4d4d4" stroke="#3c3c3c" stroke-width="0.7"/>
<text x="633.70" y="45.90" font-size="12.6" fill="#231f20" textLength="46.90" lengthAdjust="spacingAndGlyphs">Inter-chr</text>
<text x="633.70" y="68.30" font-size="12.6" fill="#231f20" textLength="46.90" lengthAdjust="spacingAndGlyphs">Intra-chr</text>
<line x1="532.50" y1="362.40" x2="532.50" y2="666.17" stroke="#dcdcdc" stroke-width="0.8"/>
<line x1="600.50" y1="362.40" x2="600.50" y2="666.17" stroke="#dcdcdc" stroke-width="0.8"/>
<line x1="669.50" y1="362.40" x2="669.50" y2="392.20" stroke="#dcdcdc" stroke-width="0.8"/>
<line x1="669.50" y1="432.00" x2="669.50" y2="666.17" stroke="#dcdcdc" stroke-width="0.8"/>
<rect x="463.40" y="372.36" width="15.10" height="2.35" fill="#6e6e6e" stroke="#262626" stroke-width="0.45"/>
<rect x="463.40" y="374.71" width="20.20" height="2.35" fill="#d4d4d4" stroke="#3c3c3c" stroke-width="0.5"/>
<text x="457.30" y="377.31" font-size="8.6" fill="#231f20" text-anchor="end">17</text>
<rect x="463.40" y="380.57" width="6.30" height="2.35" fill="#6e6e6e" stroke="#262626" stroke-width="0.45"/>
<rect x="463.40" y="382.92" width="26.20" height="2.35" fill="#d4d4d4" stroke="#3c3c3c" stroke-width="0.5"/>
<text x="457.30" y="385.52" font-size="8.6" fill="#231f20" text-anchor="end">16</text>
<rect x="463.40" y="391.13" width="20.10" height="2.35" fill="#d4d4d4" stroke="#3c3c3c" stroke-width="0.5"/>
<text x="457.30" y="393.74" font-size="8.6" fill="#231f20" text-anchor="end">15</text>
<rect x="463.40" y="399.34" width="15.50" height="2.35" fill="#d4d4d4" stroke="#3c3c3c" stroke-width="0.5"/>
<text x="457.30" y="401.94" font-size="8.6" fill="#231f20" text-anchor="end">14</text>
<rect x="463.40" y="407.55" width="9.60" height="2.35" fill="#d4d4d4" stroke="#3c3c3c" stroke-width="0.5"/>
<text x="457.30" y="410.15" font-size="8.6" fill="#231f20" text-anchor="end">13</text>
<rect x="463.40" y="413.41" width="10.60" height="2.35" fill="#6e6e6e" stroke="#262626" stroke-width="0.45"/>
<rect x="463.40" y="415.76" width="17.00" height="2.35" fill="#d4d4d4" stroke="#3c3c3c" stroke-width="0.5"/>
<text x="457.30" y="418.37" font-size="8.6" fill="#231f20" text-anchor="end">12</text>
<rect x="463.40" y="423.97" width="18.30" height="2.35" fill="#d4d4d4" stroke="#3c3c3c" stroke-width="0.5"/>
<text x="457.30" y="426.57" font-size="8.6" fill="#231f20" text-anchor="end">11</text>
<rect x="463.40" y="432.19" width="21.40" height="2.35" fill="#d4d4d4" stroke="#3c3c3c" stroke-width="0.5"/>
<text x="457.30" y="434.79" font-size="8.6" fill="#231f20" text-anchor="end">10</text>
<rect x="463.40" y="438.04" width="5.30" height="2.35" fill="#6e6e6e" stroke="#262626" stroke-width="0.45"/>
<rect x="463.40" y="440.39" width="11.30" height="2.35" fill="#d4d4d4" stroke="#3c3c3c" stroke-width="0.5"/>
<text x="457.30" y="443.00" font-size="8.6" fill="#231f20" text-anchor="end">9</text>
<rect x="463.40" y="448.61" width="45.60" height="2.35" fill="#d4d4d4" stroke="#3c3c3c" stroke-width="0.5"/>
<text x="457.30" y="451.21" font-size="8.6" fill="#231f20" text-anchor="end">8</text>
<rect x="463.40" y="456.81" width="9.50" height="2.35" fill="#d4d4d4" stroke="#3c3c3c" stroke-width="0.5"/>
<text x="457.30" y="459.42" font-size="8.6" fill="#231f20" text-anchor="end">7</text>
<rect x="463.40" y="465.02" width="20.50" height="2.35" fill="#d4d4d4" stroke="#3c3c3c" stroke-width="0.5"/>
<text x="457.30" y="467.62" font-size="8.6" fill="#231f20" text-anchor="end">6</text>
<rect x="463.40" y="470.88" width="11.30" height="2.35" fill="#6e6e6e" stroke="#262626" stroke-width="0.45"/>
<rect x="463.40" y="473.24" width="8.30" height="2.35" fill="#d4d4d4" stroke="#3c3c3c" stroke-width="0.5"/>
<text x="457.30" y="475.84" font-size="8.6" fill="#231f20" text-anchor="end">5</text>
<rect x="463.40" y="481.44" width="13.20" height="2.35" fill="#d4d4d4" stroke="#3c3c3c" stroke-width="0.5"/>
<text x="457.30" y="484.05" font-size="8.6" fill="#231f20" text-anchor="end">4</text>
<rect x="463.40" y="489.65" width="13.20" height="2.35" fill="#d4d4d4" stroke="#3c3c3c" stroke-width="0.5"/>
<text x="457.30" y="492.25" font-size="8.6" fill="#231f20" text-anchor="end">3</text>
<rect x="463.40" y="497.87" width="8.60" height="2.35" fill="#d4d4d4" stroke="#3c3c3c" stroke-width="0.5"/>
<text x="457.30" y="500.47" font-size="8.6" fill="#231f20" text-anchor="end">2</text>
<rect x="463.40" y="503.72" width="68.70" height="2.35" fill="#6e6e6e" stroke="#262626" stroke-width="0.45"/>
<rect x="463.40" y="506.07" width="6.20" height="2.35" fill="#d4d4d4" stroke="#3c3c3c" stroke-width="0.5"/>
<text x="457.30" y="508.68" font-size="8.6" fill="#231f20" text-anchor="end">1</text>
<text x="438.40" y="436.29" font-size="8.6" fill="#231f20" text-anchor="middle" transform="rotate(-90 438.40 436.29)">chr11</text>
<rect x="463.40" y="520.14" width="8.60" height="2.35" fill="#6e6e6e" stroke="#262626" stroke-width="0.45"/>
<rect x="463.40" y="522.50" width="29.30" height="2.35" fill="#d4d4d4" stroke="#3c3c3c" stroke-width="0.5"/>
<text x="457.30" y="525.10" font-size="8.6" fill="#231f20" text-anchor="end">10</text>
<rect x="463.40" y="528.35" width="36.30" height="2.35" fill="#6e6e6e" stroke="#262626" stroke-width="0.45"/>
<rect x="463.40" y="530.70" width="24.00" height="2.35" fill="#d4d4d4" stroke="#3c3c3c" stroke-width="0.5"/>
<text x="457.30" y="533.30" font-size="8.6" fill="#231f20" text-anchor="end">9</text>
<rect x="463.40" y="538.91" width="28.10" height="2.35" fill="#d4d4d4" stroke="#3c3c3c" stroke-width="0.5"/>
<text x="457.30" y="541.51" font-size="8.6" fill="#231f20" text-anchor="end">8</text>
<rect x="463.40" y="547.12" width="16.20" height="2.35" fill="#d4d4d4" stroke="#3c3c3c" stroke-width="0.5"/>
<text x="457.30" y="549.73" font-size="8.6" fill="#231f20" text-anchor="end">7</text>
<rect x="463.40" y="552.99" width="7.40" height="2.35" fill="#6e6e6e" stroke="#262626" stroke-width="0.45"/>
<rect x="463.40" y="555.34" width="13.20" height="2.35" fill="#d4d4d4" stroke="#3c3c3c" stroke-width="0.5"/>
<text x="457.30" y="557.94" font-size="8.6" fill="#231f20" text-anchor="end">6</text>
<rect x="463.40" y="563.54" width="8.30" height="2.35" fill="#d4d4d4" stroke="#3c3c3c" stroke-width="0.5"/>
<text x="457.30" y="566.14" font-size="8.6" fill="#231f20" text-anchor="end">5</text>
<rect x="463.40" y="569.40" width="7.10" height="2.35" fill="#6e6e6e" stroke="#262626" stroke-width="0.45"/>
<rect x="463.40" y="571.75" width="7.10" height="2.35" fill="#d4d4d4" stroke="#3c3c3c" stroke-width="0.5"/>
<text x="457.30" y="574.36" font-size="8.6" fill="#231f20" text-anchor="end">4</text>
<rect x="463.40" y="577.62" width="4.30" height="2.35" fill="#6e6e6e" stroke="#262626" stroke-width="0.45"/>
<rect x="463.40" y="579.97" width="13.10" height="2.35" fill="#d4d4d4" stroke="#3c3c3c" stroke-width="0.5"/>
<text x="457.30" y="582.57" font-size="8.6" fill="#231f20" text-anchor="end">3</text>
<rect x="463.40" y="585.82" width="17.20" height="2.35" fill="#6e6e6e" stroke="#262626" stroke-width="0.45"/>
<rect x="463.40" y="588.17" width="13.50" height="2.35" fill="#d4d4d4" stroke="#3c3c3c" stroke-width="0.5"/>
<text x="457.30" y="590.77" font-size="8.6" fill="#231f20" text-anchor="end">2</text>
<rect x="463.40" y="594.03" width="101.70" height="2.35" fill="#6e6e6e" stroke="#262626" stroke-width="0.45"/>
<text x="457.30" y="598.99" font-size="8.6" fill="#231f20" text-anchor="end">1</text>
<text x="438.40" y="555.34" font-size="8.6" fill="#231f20" text-anchor="middle" transform="rotate(-90 438.40 555.34)">chr4</text>
<rect x="463.40" y="610.46" width="17.00" height="2.35" fill="#6e6e6e" stroke="#262626" stroke-width="0.45"/>
<rect x="463.40" y="612.81" width="15.80" height="2.35" fill="#d4d4d4" stroke="#3c3c3c" stroke-width="0.5"/>
<text x="457.30" y="615.41" font-size="8.6" fill="#231f20" text-anchor="end">7</text>
<rect x="463.40" y="621.01" width="14.90" height="2.35" fill="#d4d4d4" stroke="#3c3c3c" stroke-width="0.5"/>
<text x="457.30" y="623.62" font-size="8.6" fill="#231f20" text-anchor="end">6</text>
<rect x="463.40" y="626.88" width="208.80" height="2.35" fill="#6e6e6e" stroke="#262626" stroke-width="0.45"/>
<rect x="463.40" y="629.23" width="6.20" height="2.35" fill="#d4d4d4" stroke="#3c3c3c" stroke-width="0.5"/>
<text x="457.30" y="631.83" font-size="8.6" fill="#231f20" text-anchor="end">5</text>
<rect x="463.40" y="637.43" width="2.50" height="2.35" fill="#d4d4d4" stroke="#3c3c3c" stroke-width="0.5"/>
<text x="457.30" y="640.03" font-size="8.6" fill="#231f20" text-anchor="end">4</text>
<rect x="463.40" y="643.29" width="17.90" height="2.35" fill="#6e6e6e" stroke="#262626" stroke-width="0.45"/>
<rect x="463.40" y="645.64" width="13.20" height="2.35" fill="#d4d4d4" stroke="#3c3c3c" stroke-width="0.5"/>
<text x="457.30" y="648.25" font-size="8.6" fill="#231f20" text-anchor="end">3</text>
<rect x="463.40" y="651.50" width="6.20" height="2.35" fill="#6e6e6e" stroke="#262626" stroke-width="0.45"/>
<rect x="463.40" y="653.86" width="14.90" height="2.35" fill="#d4d4d4" stroke="#3c3c3c" stroke-width="0.5"/>
<text x="457.30" y="656.46" font-size="8.6" fill="#231f20" text-anchor="end">2</text>
<rect x="463.40" y="662.07" width="9.20" height="2.35" fill="#d4d4d4" stroke="#3c3c3c" stroke-width="0.5"/>
<text x="457.30" y="664.67" font-size="8.6" fill="#231f20" text-anchor="end">1</text>
<text x="438.40" y="633.33" font-size="8.6" fill="#231f20" text-anchor="middle" transform="rotate(-90 438.40 633.33)">chr2</text>
<line x1="431.40" y1="362.40" x2="463.40" y2="362.40" stroke="#a0a0a0" stroke-width="1.25"/>
<line x1="431.40" y1="510.18" x2="463.40" y2="510.18" stroke="#a0a0a0" stroke-width="1.25"/>
<line x1="431.40" y1="600.49" x2="463.40" y2="600.49" stroke="#a0a0a0" stroke-width="1.25"/>
<line x1="431.40" y1="666.50" x2="683.50" y2="666.50" stroke="#555" stroke-width="1"/>
<line x1="463.50" y1="362.40" x2="463.50" y2="666.17" stroke="#4a4a4a" stroke-width="1"/>
<line x1="463.40" y1="666.17" x2="463.40" y2="668.17" stroke="#858585" stroke-width="0.7"/>
<line x1="477.12" y1="666.17" x2="477.12" y2="668.17" stroke="#858585" stroke-width="0.7"/>
<line x1="490.84" y1="666.17" x2="490.84" y2="668.17" stroke="#858585" stroke-width="0.7"/>
<line x1="504.56" y1="666.17" x2="504.56" y2="668.17" stroke="#858585" stroke-width="0.7"/>
<line x1="518.28" y1="666.17" x2="518.28" y2="668.17" stroke="#858585" stroke-width="0.7"/>
<line x1="532.00" y1="666.17" x2="532.00" y2="668.17" stroke="#858585" stroke-width="0.7"/>
<line x1="545.72" y1="666.17" x2="545.72" y2="668.17" stroke="#858585" stroke-width="0.7"/>
<line x1="559.44" y1="666.17" x2="559.44" y2="668.17" stroke="#858585" stroke-width="0.7"/>
<line x1="573.16" y1="666.17" x2="573.16" y2="668.17" stroke="#858585" stroke-width="0.7"/>
<line x1="586.88" y1="666.17" x2="586.88" y2="668.17" stroke="#858585" stroke-width="0.7"/>
<line x1="600.60" y1="666.17" x2="600.60" y2="668.17" stroke="#858585" stroke-width="0.7"/>
<line x1="614.32" y1="666.17" x2="614.32" y2="668.17" stroke="#858585" stroke-width="0.7"/>
<line x1="628.04" y1="666.17" x2="628.04" y2="668.17" stroke="#858585" stroke-width="0.7"/>
<line x1="641.76" y1="666.17" x2="641.76" y2="668.17" stroke="#858585" stroke-width="0.7"/>
<line x1="655.48" y1="666.17" x2="655.48" y2="668.17" stroke="#858585" stroke-width="0.7"/>
<line x1="669.20" y1="666.17" x2="669.20" y2="668.17" stroke="#858585" stroke-width="0.7"/>
<line x1="682.92" y1="666.17" x2="682.92" y2="668.17" stroke="#858585" stroke-width="0.7"/>
<line x1="696.64" y1="666.17" x2="696.64" y2="668.17" stroke="#858585" stroke-width="0.7"/>
<line x1="710.36" y1="666.17" x2="710.36" y2="668.17" stroke="#858585" stroke-width="0.7"/>
<line x1="476.50" y1="362.40" x2="476.50" y2="683.50" stroke="#111" stroke-width="1.3" stroke-dasharray="4,2.3"/>
<text x="463.40" y="677.60" font-size="8.8" fill="#231f20" text-anchor="middle">0</text>
<text x="532.00" y="677.60" font-size="8.8" fill="#231f20" text-anchor="middle">5</text>
<text x="600.60" y="677.60" font-size="8.8" fill="#231f20" text-anchor="middle">10</text>
<text x="669.20" y="677.60" font-size="8.8" fill="#231f20" text-anchor="middle">15</text>
<text x="477.00" y="693.80" font-size="13.3" fill="#231f20" text-anchor="middle" textLength="8.00" lengthAdjust="spacingAndGlyphs">E</text>
<text x="544.60" y="690.60" font-size="11.3" fill="#231f20" textLength="22.40" lengthAdjust="spacingAndGlyphs">Fold</text>
<text x="571.60" y="691.30" font-size="9.0" fill="#231f20" textLength="101.80" lengthAdjust="spacingAndGlyphs">(normalized to expected)</text>
<text x="396.00" y="366.20" font-size="16.9" fill="#231f20">H</text>
<text x="409.50" y="522.00" font-size="13.2" fill="#231f20" text-anchor="middle" textLength="251.80" lengthAdjust="spacingAndGlyphs" transform="rotate(-90 409.50 522.00)">Inter- and Intra-chr HiC loops acrossRCDs:</text>
<text x="425.50" y="522.10" font-size="12.6" fill="#231f20" text-anchor="middle" textLength="57.20" lengthAdjust="spacingAndGlyphs" transform="rotate(-90 425.50 522.10)">chr2, 4, 11</text>
<text x="652.10" y="372.40" font-size="12.6" fill="#231f20" text-anchor="middle" textLength="21.10" lengthAdjust="spacingAndGlyphs">HiC</text>
<text x="652.00" y="388.80" font-size="12.6" fill="#231f20" text-anchor="middle" textLength="30.00" lengthAdjust="spacingAndGlyphs">loops</text>
<rect x="624.40" y="398.30" width="6.40" height="6.00" fill="#6e6e6e" stroke="#262626" stroke-width="0.7"/>
<rect x="624.40" y="420.20" width="6.40" height="6.00" fill="#d4d4d4" stroke="#3c3c3c" stroke-width="0.7"/>
<text x="633.70" y="404.60" font-size="12.6" fill="#231f20" textLength="46.90" lengthAdjust="spacingAndGlyphs">Inter-chr</text>
<text x="633.70" y="426.30" font-size="12.6" fill="#231f20" textLength="46.90" lengthAdjust="spacingAndGlyphs">Intra-chr</text>
</svg></body></html>
